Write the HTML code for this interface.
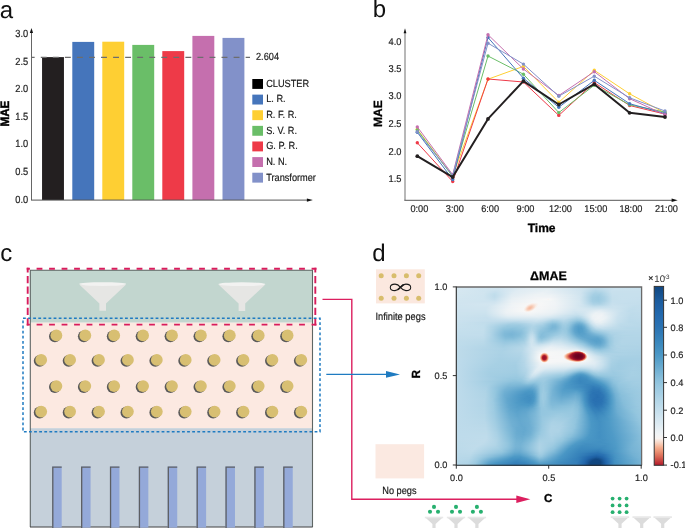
<!DOCTYPE html><html><head><meta charset="utf-8"><style>html,body{margin:0;padding:0;background:#fff;}body{position:relative;width:685px;height:528px;overflow:hidden;}#hm div{position:absolute;left:0;width:100%;height:1px;}svg{display:block;position:absolute;left:0;top:0;will-change:transform;}</style></head><body><div id="hm" style="position:absolute;left:456px;top:287px;width:186px;height:179px;"><div style="top:0px;background:linear-gradient(90deg,#d7e8f1 0.3%,#d1e5ef 22.8%,#e3edf3 41.7%,#e1ecf3 51.9%,#cbe2ee 69.6%,#c1ddec 76.1%,#cce2ee 86.3%,#c9e1ee 99.7%)"></div><div style="top:1px;background:linear-gradient(90deg,#d7e8f1 0.3%,#cfe4ef 22.3%,#e2edf3 39.0%,#e3edf3 50.8%,#cce3ee 68.5%,#bddbea 75.5%,#cbe2ee 85.8%,#c9e1ed 99.7%)"></div><div style="top:2px;background:linear-gradient(90deg,#d7e8f1 0.3%,#cfe4ef 17.5%,#cee3ef 22.8%,#e1edf3 35.8%,#e5eff4 49.7%,#cde3ef 68.0%,#b9d9e9 75.0%,#c0dceb 79.3%,#cbe2ee 85.2%,#c9e1ed 99.7%)"></div><div style="top:3px;background:linear-gradient(90deg,#d6e7f1 0.3%,#cfe4ef 16.4%,#cbe2ee 21.8%,#e0ecf3 33.6%,#e7f0f4 48.7%,#cee3ef 67.5%,#b4d6e8 75.0%,#bad9e9 78.8%,#c9e1ee 84.1%,#c8e1ed 99.7%)"></div><div style="top:4px;background:linear-gradient(90deg,#d6e7f1 0.3%,#cfe4ef 15.9%,#c8e0ed 21.2%,#e0ecf3 32.5%,#e9f0f4 48.7%,#d0e4ef 66.9%,#b0d4e6 75.0%,#b6d7e8 78.8%,#c8e0ed 83.6%,#c8e0ed 99.7%)"></div><div style="top:5px;background:linear-gradient(90deg,#d5e7f0 0.3%,#d0e4ef 15.3%,#c5dfed 21.2%,#dfecf3 30.9%,#ebf1f5 46.5%,#e2edf3 54.6%,#d0e4ef 66.9%,#b7d8e9 71.8%,#abd2e5 75.0%,#afd4e6 78.2%,#c7e0ed 83.6%,#c8e0ed 91.1%,#c8e0ed 99.7%)"></div><div style="top:6px;background:linear-gradient(90deg,#d5e7f0 0.3%,#d0e4ef 14.8%,#c2deec 20.7%,#e0ecf3 30.9%,#edf2f5 46.5%,#e5eef4 54.0%,#d0e4ef 66.9%,#b8d8e9 71.2%,#a8d0e4 74.5%,#a9d1e5 77.7%,#c7e0ed 84.1%,#c7e0ed 99.7%)"></div><div style="top:7px;background:linear-gradient(90deg,#d4e6f0 0.3%,#d0e4ef 14.8%,#c0ddeb 20.7%,#cde3ef 24.5%,#e1ecf3 30.4%,#eef3f5 44.4%,#eaf1f5 51.9%,#d9e9f1 62.6%,#cee3ef 67.5%,#a6cfe4 73.9%,#a4cee3 77.2%,#c6e0ed 84.1%,#c7e0ed 91.7%,#c7e0ed 99.7%)"></div><div style="top:8px;background:linear-gradient(90deg,#d4e6f0 0.3%,#cfe4ef 14.8%,#c0dceb 20.7%,#cbe2ee 23.9%,#e1edf3 29.8%,#eef3f5 42.2%,#eef3f5 50.8%,#dae9f1 63.2%,#cee3ef 67.5%,#a3cee3 73.9%,#a1cde2 77.2%,#b5d7e8 80.9%,#c6dfed 84.1%,#c7e0ed 90.6%,#c7e0ed 99.7%)"></div><div style="top:9px;background:linear-gradient(90deg,#d3e6f0 0.3%,#cfe4ef 14.8%,#c0dceb 20.7%,#cce2ee 23.9%,#e3edf3 29.8%,#eff3f6 41.7%,#eff3f6 50.8%,#d3e6f0 66.4%,#bfdceb 69.6%,#a3cee3 73.4%,#9ecbe1 76.6%,#abd2e5 79.8%,#c5dfed 84.1%,#c7e0ed 90.1%,#c6e0ed 99.7%)"></div><div style="top:10px;background:linear-gradient(90deg,#d3e6f0 0.3%,#cfe4ef 14.8%,#c1ddeb 20.7%,#d0e4ef 24.5%,#e6eff4 30.4%,#f2f4f6 43.3%,#f1f4f6 50.8%,#dceaf2 62.6%,#d1e5ef 66.9%,#bad9e9 70.2%,#a2cde2 73.4%,#9ccae1 76.6%,#aad1e5 79.8%,#c5dfec 84.1%,#c7e0ed 90.1%,#c6dfed 99.7%)"></div><div style="top:11px;background:linear-gradient(90deg,#d2e5f0 0.3%,#cfe4ef 14.8%,#c3deec 20.7%,#d5e7f0 25.0%,#e9f0f4 30.9%,#f3f5f6 44.9%,#f5f6f7 50.3%,#deebf2 61.0%,#d3e6f0 66.4%,#bfdceb 69.6%,#a1cde2 73.4%,#9ccae1 76.6%,#a9d1e5 79.8%,#c4dfec 84.1%,#c7e0ed 89.5%,#c6dfed 99.7%)"></div><div style="top:12px;background:linear-gradient(90deg,#d2e5f0 0.3%,#cfe4ef 15.3%,#c6dfed 20.7%,#e8f0f4 29.8%,#f3f5f6 41.7%,#f6f7f7 48.7%,#f8f4f1 49.7%,#f6f7f7 50.3%,#dfecf3 61.0%,#d4e6f0 66.4%,#bfdceb 69.6%,#a1cde2 73.4%,#9ccae1 76.6%,#a9d1e5 79.8%,#c4dfec 84.1%,#c7e0ed 89.5%,#c5dfed 99.7%)"></div><div style="top:13px;background:linear-gradient(90deg,#d1e5ef 0.3%,#cee4ef 15.9%,#c9e1ee 20.7%,#eaf1f5 29.8%,#f5f6f7 42.2%,#f4f6f6 50.8%,#d4e6f0 66.4%,#c0dceb 69.6%,#a2cde3 73.4%,#9dcbe1 76.6%,#aad1e5 79.8%,#c5dfec 84.1%,#c6dfed 90.1%,#c5dfed 99.7%)"></div><div style="top:14px;background:linear-gradient(90deg,#d1e5ef 0.3%,#cee3ef 16.9%,#cee3ef 21.2%,#ebf1f5 29.8%,#f6f7f7 43.3%,#f1f4f6 52.4%,#d5e7f0 66.4%,#c1ddeb 69.6%,#a4cee3 73.4%,#9fcce2 76.6%,#acd2e5 79.8%,#c5dfed 84.1%,#c6dfed 90.1%,#c4dfec 99.7%)"></div><div style="top:15px;background:linear-gradient(90deg,#d0e4ef 0.3%,#d0e4ef 20.7%,#edf2f5 30.4%,#f7f7f7 43.8%,#f1f4f6 53.0%,#d3e6f0 66.9%,#bedbeb 70.2%,#a5cfe4 73.9%,#a4cee3 77.2%,#b6d7e8 80.9%,#c6dfed 84.1%,#c5dfed 90.6%,#c4deec 99.7%)"></div><div style="top:16px;background:linear-gradient(90deg,#d0e4ef 0.3%,#d2e5f0 20.7%,#eef3f5 29.8%,#f7f6f5 39.5%,#f9efea 41.1%,#f8f1ed 42.7%,#f7f7f7 44.4%,#f0f4f6 53.5%,#d3e6f0 66.9%,#bddbea 70.7%,#aad1e5 73.9%,#a9d0e4 77.2%,#c7e0ed 84.1%,#c4deec 91.7%,#c4deec 99.7%)"></div><div style="top:17px;background:linear-gradient(90deg,#d0e4ef 0.3%,#d3e6f0 19.6%,#eff3f6 30.4%,#f7f6f6 38.4%,#f9e3d8 40.6%,#f9e4d9 41.7%,#f7f7f7 44.4%,#f0f4f6 53.5%,#d2e5f0 67.5%,#b0d4e7 73.9%,#afd4e6 77.2%,#c8e0ed 84.1%,#c3deec 98.1%,#c3deec 99.7%)"></div><div style="top:18px;background:linear-gradient(90deg,#cfe4ef 0.3%,#d2e5f0 18.0%,#f0f4f6 30.4%,#f6f7f7 37.4%,#f8f4f2 37.9%,#f8d5c4 40.1%,#f7d2c0 40.6%,#f8d3c2 41.1%,#f9e1d4 42.2%,#f9f0eb 43.3%,#f7f7f7 44.4%,#f0f3f6 53.5%,#d0e4ef 68.0%,#b7d8e8 74.5%,#bbdaea 78.8%,#cae1ee 84.1%,#c2ddec 97.0%,#c3deec 99.7%)"></div><div style="top:19px;background:linear-gradient(90deg,#cfe4ef 0.3%,#d1e5ef 16.9%,#f0f4f6 29.8%,#f6f7f7 36.8%,#f8f4f2 37.4%,#f9ede6 37.9%,#f8d4c3 39.0%,#f7cbb6 39.5%,#f6c6af 40.1%,#f6c6af 40.6%,#f7cbb6 41.1%,#f8dfd2 42.2%,#f9ebe2 42.7%,#f7f6f5 43.8%,#eff3f6 53.5%,#d9e9f1 64.2%,#c0dceb 74.5%,#cbe2ee 85.2%,#c1ddeb 96.0%,#c2deec 99.7%)"></div><div style="top:20px;background:linear-gradient(90deg,#cfe4ef 0.3%,#d0e4ef 16.4%,#eff3f6 29.3%,#f7f6f5 36.8%,#f9eee8 37.4%,#f7c7b1 39.0%,#f6bfa5 39.5%,#f6bca1 40.1%,#f6c1a9 40.6%,#f8d6c6 41.7%,#f9efe9 42.7%,#f7f5f3 43.3%,#f6f6f7 44.4%,#eff3f5 53.5%,#d9e9f1 63.7%,#c8e1ed 73.9%,#cbe2ee 85.8%,#c0ddeb 95.4%,#c2ddec 99.7%)"></div><div style="top:21px;background:linear-gradient(90deg,#cee4ef 0.3%,#d0e4ef 16.4%,#eff3f6 28.8%,#f7f7f7 36.3%,#f8f2ef 36.8%,#f9e8df 37.4%,#f7ccb8 38.4%,#f6c2aa 39.0%,#f6bca2 39.5%,#f6bfa6 40.1%,#f8d3c2 41.1%,#f9eee7 42.2%,#f7f5f3 42.7%,#f6f6f7 43.8%,#eff3f5 53.0%,#d8e8f1 63.7%,#cfe4ef 73.4%,#d0e4ef 82.0%,#c0dceb 94.9%,#c2ddec 99.7%)"></div><div style="top:22px;background:linear-gradient(90deg,#cee3ef 0.3%,#cfe4ef 15.9%,#eff3f5 28.2%,#f7f7f7 36.3%,#f8f1ec 36.8%,#f7cebb 38.4%,#f7c8b3 39.0%,#f7c8b2 39.5%,#f7ceba 40.1%,#f9efea 41.7%,#f7f6f6 42.2%,#edf2f5 53.5%,#d6e7f1 63.7%,#d4e6f0 72.3%,#d9e9f1 78.2%,#bfdceb 94.4%,#c1ddec 99.7%)"></div><div style="top:23px;background:linear-gradient(90deg,#cee3ef 0.3%,#cee3ef 15.9%,#eef3f5 27.7%,#f7f7f7 36.3%,#f9ebe3 37.4%,#f9e1d5 37.9%,#f8dacc 38.4%,#f8d9c9 39.0%,#f8dcce 39.5%,#f8f3f1 41.1%,#f6f7f7 41.7%,#ebf2f5 53.5%,#d5e7f0 63.7%,#d6e7f0 70.7%,#e1ecf3 77.2%,#bfdceb 93.3%,#c1ddeb 99.7%)"></div><div style="top:24px;background:linear-gradient(90deg,#cee3ef 0.3%,#cde3ef 15.9%,#edf2f5 27.2%,#f7f7f7 36.8%,#f9efe9 37.9%,#f9eee8 39.0%,#f6f7f7 40.6%,#ebf1f5 53.0%,#d2e5f0 63.7%,#d4e6f0 69.1%,#e7eff4 76.6%,#d8e8f1 82.5%,#bfdceb 92.7%,#c1ddeb 99.7%)"></div><div style="top:25px;background:linear-gradient(90deg,#cde3ee 0.3%,#cce3ee 15.9%,#ecf2f5 27.2%,#f5f6f7 39.5%,#eaf1f5 52.4%,#cfe4ef 64.2%,#d4e6f0 69.1%,#eaf1f5 75.5%,#e6eff4 79.3%,#c6dfed 89.0%,#bedbeb 94.9%,#c0dceb 99.7%)"></div><div style="top:26px;background:linear-gradient(90deg,#cde3ee 0.3%,#cbe2ee 15.9%,#ebf1f5 27.2%,#f2f5f6 39.5%,#e9f0f4 51.3%,#cbe2ee 64.8%,#d1e5ef 68.5%,#edf2f5 75.0%,#ebf1f5 78.8%,#c7e0ed 88.4%,#bedbea 94.4%,#c0dceb 99.7%)"></div><div style="top:27px;background:linear-gradient(90deg,#cde3ee 0.3%,#cae1ee 15.9%,#e9f0f4 27.7%,#eff3f5 40.1%,#e7eff4 50.3%,#c7e0ed 64.8%,#cfe4ef 68.5%,#ecf2f5 73.9%,#eef3f5 78.2%,#c7e0ed 88.4%,#bddbea 94.4%,#bfdceb 99.7%)"></div><div style="top:28px;background:linear-gradient(90deg,#cce2ee 0.3%,#c8e1ed 15.9%,#e6eff4 27.7%,#ebf1f5 41.1%,#e3eef3 49.7%,#c5dfec 62.6%,#c1ddeb 65.9%,#d3e6f0 69.6%,#eef3f5 73.9%,#f0f3f6 78.2%,#e1edf3 82.0%,#c8e0ed 87.9%,#bddbea 93.8%,#bfdceb 99.7%)"></div><div style="top:29px;background:linear-gradient(90deg,#cce2ee 0.3%,#c8e0ed 16.4%,#e1edf3 27.7%,#e6eff4 43.3%,#dbeaf2 50.3%,#c7e0ed 60.5%,#b9d9e9 64.8%,#c0dceb 67.5%,#ecf2f5 73.4%,#f1f4f6 77.2%,#e7f0f4 80.9%,#cbe2ee 86.8%,#bddbea 93.3%,#bedbeb 99.7%)"></div><div style="top:30px;background:linear-gradient(90deg,#cbe2ee 0.3%,#c6dfed 16.4%,#dbeaf2 27.7%,#e0ecf3 44.4%,#cce2ee 54.6%,#c5dfed 59.4%,#b1d5e7 64.8%,#b5d7e8 66.9%,#ebf1f5 73.4%,#f1f4f6 76.6%,#eaf1f5 80.4%,#cae1ee 86.8%,#bcdaea 93.3%,#bedbea 99.7%)"></div><div style="top:31px;background:linear-gradient(90deg,#cbe2ee 0.3%,#c5dfed 16.9%,#d5e7f0 28.2%,#d9e9f1 44.9%,#c8e1ed 50.8%,#c3deec 54.6%,#c2ddec 58.9%,#a8d0e4 64.8%,#abd2e5 66.9%,#bedceb 69.1%,#eaf1f5 73.4%,#f1f4f6 76.1%,#ecf2f5 79.8%,#c9e1ee 86.8%,#bcdaea 93.3%,#bddbea 99.7%)"></div><div style="top:32px;background:linear-gradient(90deg,#cbe2ee 0.3%,#c5dfed 18.0%,#cde3ef 28.8%,#d3e6f0 44.4%,#c8e0ed 48.7%,#b7d8e9 52.4%,#bddbea 58.3%,#a8d0e4 62.6%,#9ecbe1 65.3%,#a5cee3 67.5%,#bcdbea 69.6%,#e2edf3 72.8%,#eff3f5 75.0%,#eef3f5 78.8%,#c8e1ed 86.8%,#bbdaea 93.3%,#bcdbea 99.7%)"></div><div style="top:33px;background:linear-gradient(90deg,#cae1ee 0.3%,#c4deec 19.1%,#c8e0ed 36.3%,#cde3ef 43.3%,#c4deec 47.6%,#acd2e5 51.9%,#aed3e6 54.6%,#b7d8e9 57.8%,#afd4e6 60.5%,#95c7df 64.8%,#97c7df 66.9%,#abd2e5 69.1%,#d2e5f0 71.8%,#eaf1f5 74.5%,#eef3f5 77.7%,#e0ecf3 81.5%,#c7e0ed 86.8%,#badaea 93.3%,#bcdaea 99.7%)"></div><div style="top:34px;background:linear-gradient(90deg,#cae1ee 0.3%,#bcdaea 33.6%,#c8e0ed 42.7%,#c0dceb 46.5%,#a0cce2 51.9%,#a1cde2 54.0%,#b2d5e7 57.8%,#acd2e5 59.9%,#87beda 65.3%,#8ac0db 66.9%,#a1cce2 69.1%,#cbe2ee 71.8%,#e6eff4 74.5%,#ecf2f5 77.2%,#e0ecf3 80.9%,#c6dfed 86.8%,#bad9e9 93.3%,#bbdaea 99.7%)"></div><div style="top:35px;background:linear-gradient(90deg,#c9e1ee 0.3%,#c0dceb 16.9%,#b1d5e7 32.0%,#bfdceb 39.5%,#c0dceb 43.8%,#b1d5e7 47.6%,#96c7df 51.9%,#98c8e0 54.0%,#acd2e5 57.8%,#a7d0e4 59.9%,#7db8d7 64.8%,#7ab6d6 66.4%,#86beda 68.0%,#badaea 71.2%,#d8e8f1 73.4%,#e7eff4 75.5%,#e8f0f4 78.2%,#c3deec 87.4%,#b9d9e9 93.8%,#badaea 99.7%)"></div><div style="top:36px;background:linear-gradient(90deg,#c9e1ed 0.3%,#c1ddeb 15.9%,#a8d0e4 30.4%,#aed3e6 36.3%,#bcdaea 41.7%,#b2d5e7 46.0%,#8bc1dc 51.9%,#8cc1dc 53.5%,#a7d0e4 57.8%,#a2cde3 59.9%,#8fc3dd 62.1%,#72b1d3 64.8%,#6eaed2 66.4%,#79b5d6 68.0%,#cbe2ee 72.8%,#deebf2 75.0%,#e4eef3 77.7%,#bedceb 88.4%,#b9d9e9 96.5%,#bad9e9 99.7%)"></div><div style="top:37px;background:linear-gradient(90deg,#c8e0ed 0.3%,#c1ddec 15.3%,#a1cde2 28.8%,#a3cee3 34.7%,#b7d8e9 41.7%,#a9d1e5 46.5%,#83bbd9 51.9%,#84bcd9 53.5%,#a1cde2 57.3%,#a3cee3 58.9%,#95c6df 61.0%,#6daed1 64.2%,#64a8ce 65.9%,#69abd0 67.5%,#7eb8d7 69.1%,#b1d5e7 71.8%,#cae1ee 73.4%,#dbeaf2 75.5%,#deebf2 78.2%,#bddbea 88.4%,#b9d9e9 97.6%,#b9d9e9 99.7%)"></div><div style="top:38px;background:linear-gradient(90deg,#c8e0ed 0.3%,#c2deec 14.8%,#9ccae1 27.7%,#9ccae1 34.1%,#acd2e6 39.0%,#b3d6e7 41.7%,#a0cce2 47.0%,#7db8d7 51.9%,#7fb9d7 53.5%,#9ecbe1 57.3%,#a0cce2 58.9%,#90c4dd 61.0%,#66a9cf 64.2%,#5ca3cc 65.9%,#60a6cd 67.5%,#74b2d4 69.1%,#a8d0e4 71.8%,#c8e1ed 73.9%,#d6e7f1 76.1%,#d6e7f1 79.3%,#bcdaea 88.4%,#b8d9e9 99.7%)"></div><div style="top:39px;background:linear-gradient(90deg,#c7e0ed 0.3%,#c2deec 14.8%,#a9d1e5 21.8%,#97c8df 27.7%,#98c8e0 34.1%,#a6cfe4 38.4%,#b1d5e7 41.1%,#9bcae1 47.0%,#7ab6d6 51.9%,#7cb7d6 53.5%,#9ccae1 57.3%,#9dcbe1 58.9%,#93c5de 60.5%,#60a5cd 64.2%,#579fca 65.9%,#5aa1cb 67.5%,#6cadd1 69.1%,#9fcce2 71.8%,#c0dceb 73.9%,#cfe4ef 76.1%,#d0e4ef 79.3%,#bad9e9 89.0%,#b8d8e9 99.7%)"></div><div style="top:40px;background:linear-gradient(90deg,#c7e0ed 0.3%,#c2deec 14.8%,#abd2e5 20.7%,#96c7df 26.1%,#91c5de 32.0%,#9bcae1 36.8%,#afd4e6 40.6%,#abd2e5 42.7%,#8dc2dc 48.7%,#79b5d6 51.9%,#7cb7d6 53.5%,#9bc9e0 57.3%,#9bcae1 58.9%,#90c4dd 60.5%,#62a7ce 63.7%,#539dc8 65.9%,#569fc9 67.5%,#65a9cf 69.1%,#a0cce2 72.3%,#c1ddec 75.0%,#cbe2ee 77.7%,#c1ddeb 83.6%,#b7d8e9 91.7%,#b7d8e9 99.7%)"></div><div style="top:41px;background:linear-gradient(90deg,#c6dfed 0.3%,#c2deec 14.8%,#afd4e6 19.6%,#93c6de 25.5%,#8cc1dc 30.4%,#96c7df 36.3%,#b0d4e6 40.6%,#a9d1e5 42.7%,#7bb7d6 51.3%,#7eb8d7 53.5%,#9ac9e0 57.3%,#9ac9e0 58.9%,#8ec2dc 60.5%,#60a5cd 63.7%,#519cc8 65.9%,#539dc8 67.5%,#61a6cd 69.1%,#85bdda 71.2%,#a7cfe4 73.4%,#bbdaea 75.5%,#c4deec 78.8%,#b6d8e8 91.7%,#b6d8e8 99.7%)"></div><div style="top:42px;background:linear-gradient(90deg,#c5dfed 0.3%,#c3deec 14.8%,#add3e6 19.6%,#8fc3dd 25.5%,#88bfdb 29.8%,#90c4dd 35.2%,#a2cde3 38.4%,#b1d5e7 40.6%,#acd2e5 42.2%,#96c7df 45.4%,#7db8d7 51.3%,#81bad8 53.5%,#99c8e0 56.7%,#9ac9e0 58.9%,#8cc1dc 60.5%,#5fa5cd 63.7%,#509cc8 65.9%,#559ec9 68.0%,#6cadd1 70.2%,#98c8e0 72.8%,#b1d5e7 75.5%,#bbdaea 79.3%,#b6d7e8 99.7%)"></div><div style="top:43px;background:linear-gradient(90deg,#c5dfed 0.3%,#c3deec 14.8%,#b0d4e6 19.1%,#89bfdb 26.1%,#84bcd9 30.4%,#8dc2dc 35.2%,#a2cde3 38.4%,#b3d6e7 40.6%,#add3e6 42.2%,#93c5de 45.4%,#81bad8 50.8%,#86bdda 53.5%,#9ccae1 57.3%,#97c8df 59.4%,#85bdd9 61.0%,#5fa5cd 63.7%,#519cc8 65.9%,#549ec9 68.0%,#68abd0 70.2%,#96c7df 73.4%,#abd2e5 76.6%,#b6d7e8 82.5%,#b5d7e8 99.7%)"></div><div style="top:44px;background:linear-gradient(90deg,#c4dfec 0.3%,#c2deec 14.8%,#afd4e6 19.1%,#85bdda 26.1%,#80b9d8 30.4%,#8bc0dc 35.2%,#9dcbe1 37.9%,#b3d6e7 40.1%,#b5d7e8 41.1%,#a8d0e4 42.7%,#8fc3dd 45.4%,#84bcd9 49.7%,#88bfdb 53.0%,#9dcbe1 57.3%,#98c8e0 59.4%,#86bdda 61.0%,#61a6cd 63.7%,#529dc8 65.9%,#549ec9 68.0%,#65a9cf 70.2%,#92c5de 73.9%,#a8d0e4 78.8%,#b4d6e8 84.7%,#b5d7e8 99.7%)"></div><div style="top:45px;background:linear-gradient(90deg,#c4deec 0.3%,#c2deec 14.8%,#aed3e6 19.1%,#83bbd9 26.1%,#7db7d7 30.4%,#89bfdb 35.2%,#9dcbe1 37.9%,#b6d7e8 40.1%,#b9d9e9 41.1%,#a9d1e5 42.7%,#91c4de 44.9%,#87beda 47.0%,#8ac0db 51.9%,#a0cce2 57.3%,#99c9e0 59.4%,#88bfdb 61.0%,#5ea4cc 64.2%,#539dc8 66.4%,#57a0ca 68.5%,#73b1d3 71.8%,#8fc3dd 75.0%,#afd4e6 83.1%,#b4d6e8 92.2%,#b4d6e8 99.7%)"></div><div style="top:46px;background:linear-gradient(90deg,#c3deec 0.3%,#c2ddec 14.8%,#b2d5e7 18.5%,#81bad8 26.1%,#7ab6d6 29.8%,#86bdda 34.7%,#99c8e0 37.4%,#b9d9e9 40.1%,#bcdaea 41.1%,#aad1e5 42.7%,#8ec3dd 44.9%,#86beda 46.5%,#8ec2dd 51.3%,#a2cde3 57.3%,#9bcae1 59.4%,#8bc1dc 61.0%,#62a7ce 64.2%,#569fc9 66.4%,#5aa1cb 69.1%,#86bdda 75.5%,#add3e6 83.6%,#b4d6e8 90.6%,#b4d6e8 99.7%)"></div><div style="top:47px;background:linear-gradient(90deg,#c3deec 0.3%,#c2deec 14.2%,#b4d6e8 18.0%,#80bad8 26.1%,#79b5d6 29.8%,#83bcd9 34.1%,#95c6df 36.8%,#bddbea 40.1%,#c0dceb 41.1%,#b5d7e8 42.2%,#93c6de 44.4%,#86bdda 46.0%,#8bc1dc 49.2%,#a5cfe4 56.7%,#a1cde2 58.9%,#8fc3dd 61.0%,#67aacf 64.2%,#59a1ca 66.4%,#5aa2cb 69.1%,#89bfdb 78.2%,#aad1e5 83.6%,#b3d6e7 89.0%,#b3d6e8 99.7%)"></div><div style="top:48px;background:linear-gradient(90deg,#c2ddec 0.3%,#c2ddec 14.2%,#b4d6e8 18.0%,#81bad8 26.1%,#7ab6d6 29.8%,#85bdd9 34.1%,#9bcae1 37.4%,#c0ddeb 40.1%,#c3deec 41.1%,#b8d8e9 42.2%,#93c6de 44.4%,#85bdda 46.0%,#8cc1dc 48.7%,#a9d1e5 56.2%,#a4cee3 58.9%,#8dc2dc 61.6%,#67aacf 64.8%,#5aa2cb 67.5%,#60a5cd 70.7%,#7ab6d6 77.7%,#9ecbe2 82.0%,#afd4e6 85.8%,#b3d6e7 97.0%,#b3d6e7 99.7%)"></div><div style="top:49px;background:linear-gradient(90deg,#c2ddec 0.3%,#c0dceb 14.8%,#add3e6 19.1%,#80bad8 26.6%,#7db8d7 30.4%,#8ac0db 34.7%,#9dcbe1 37.4%,#c4deec 40.1%,#c7e0ed 41.1%,#bad9ea 42.2%,#94c6df 44.4%,#88beda 45.4%,#87beda 47.0%,#a9d1e5 54.0%,#add3e6 57.3%,#a1cce2 59.9%,#8cc1dc 62.1%,#69abd0 65.3%,#5da3cc 68.0%,#67aacf 75.5%,#75b3d4 78.2%,#9bc9e0 82.0%,#add3e6 85.2%,#b3d6e7 91.1%,#b3d6e7 99.7%)"></div><div style="top:50px;background:linear-gradient(90deg,#c1ddeb 0.3%,#bfdceb 14.8%,#add3e6 19.1%,#83bcd9 26.6%,#80bad8 30.4%,#90c4dd 35.2%,#a0cce2 37.4%,#c6e0ed 40.1%,#c9e1ee 41.1%,#bddbea 42.2%,#95c7df 44.4%,#8ac0db 45.4%,#8ac0db 47.0%,#acd2e5 53.0%,#b2d5e7 56.7%,#a9d0e4 59.4%,#8dc2dc 62.6%,#6cadd1 65.9%,#5fa5cd 69.1%,#62a6cd 76.1%,#72b1d3 78.8%,#97c8e0 82.0%,#acd2e5 85.2%,#b2d5e7 90.1%,#b2d5e7 99.7%)"></div><div style="top:51px;background:linear-gradient(90deg,#c1ddeb 0.3%,#bedbea 14.8%,#aad1e5 19.6%,#87beda 26.6%,#86bdda 30.9%,#99c9e0 36.3%,#a9d1e5 37.9%,#c9e1ed 40.1%,#cce2ee 41.1%,#c0dceb 42.2%,#98c8e0 44.4%,#8cc1dc 46.0%,#9ac9e0 48.7%,#b2d5e7 53.0%,#b7d8e9 56.7%,#aad1e5 59.9%,#89bfdb 63.7%,#6cadd1 66.9%,#5fa5cd 70.7%,#5ca3cc 76.1%,#67aacf 78.2%,#9ac9e0 82.5%,#add3e6 85.8%,#b2d5e7 91.7%,#b2d5e7 99.7%)"></div><div style="top:52px;background:linear-gradient(90deg,#c0dceb 0.3%,#bcdbea 14.8%,#a8d0e4 20.2%,#8bc1dc 26.6%,#8bc1dc 30.9%,#9dcae1 36.3%,#acd2e5 37.9%,#cbe2ee 40.1%,#cee3ef 41.1%,#c2ddec 42.2%,#9ccae1 44.4%,#93c6de 46.0%,#a0cce2 48.7%,#b8d8e9 52.4%,#bddbea 56.2%,#b2d5e7 59.4%,#8dc2dc 64.2%,#6daed1 68.0%,#5ba2cb 72.8%,#5aa2cb 76.6%,#68aad0 78.8%,#98c8e0 82.5%,#abd2e5 85.2%,#b2d5e7 89.5%,#b2d5e7 99.7%)"></div><div style="top:53px;background:linear-gradient(90deg,#c0dceb 0.3%,#bbdaea 14.8%,#a5cfe4 20.7%,#90c4dd 26.6%,#92c5de 31.5%,#a0cce2 36.3%,#afd4e6 37.9%,#cce2ee 40.1%,#cfe4ef 41.1%,#c4dfec 42.2%,#a2cde3 44.4%,#9bc9e0 46.0%,#a9d0e4 48.7%,#bfdceb 52.4%,#c3deec 56.2%,#b5d7e8 59.9%,#87beda 65.9%,#67aacf 70.2%,#58a0ca 74.5%,#5aa2cb 77.2%,#6badd1 79.3%,#97c7df 82.5%,#aad1e5 85.2%,#b2d5e7 89.5%,#b1d5e7 99.7%)"></div><div style="top:54px;background:linear-gradient(90deg,#bfdceb 0.3%,#bad9e9 14.8%,#a2cde3 21.8%,#94c6df 26.6%,#99c8e0 32.5%,#a7d0e4 36.8%,#cde3ee 40.1%,#d0e4ef 41.1%,#bfdceb 42.7%,#a9d1e5 44.4%,#a4cee3 46.0%,#b6d7e8 49.2%,#c7e0ed 52.4%,#c8e1ed 56.2%,#bbdaea 59.9%,#88bfdb 66.9%,#63a7ce 71.8%,#58a0ca 75.5%,#5da3cc 77.7%,#71b0d3 79.8%,#96c7df 82.5%,#aad1e5 85.2%,#b2d5e7 89.0%,#b1d5e7 99.7%)"></div><div style="top:55px;background:linear-gradient(90deg,#bfdceb 0.3%,#b9d9e9 14.8%,#99c8e0 26.1%,#9dcbe1 32.5%,#abd2e5 36.8%,#cee3ef 40.1%,#d1e5ef 41.1%,#c3deec 42.7%,#b2d5e7 44.4%,#afd4e6 46.0%,#cde3ef 51.9%,#cde3ee 56.7%,#bbdaea 61.0%,#89bfdb 68.0%,#65a9cf 72.3%,#5aa2cb 75.5%,#5ea4cc 77.7%,#71b0d3 79.8%,#96c7df 82.5%,#aad1e5 85.2%,#b2d5e7 89.0%,#b0d4e7 99.7%)"></div><div style="top:56px;background:linear-gradient(90deg,#bfdceb 0.3%,#b8d8e9 14.8%,#9ccae1 26.1%,#a3cde3 33.1%,#aed3e6 36.8%,#d1e5ef 40.6%,#cbe2ee 42.2%,#bbdaea 44.4%,#bcdaea 46.5%,#d3e6f0 51.3%,#d3e6f0 56.2%,#c2deec 61.0%,#94c6df 68.0%,#68aad0 72.8%,#5ea4cc 75.5%,#61a6cd 77.7%,#73b2d4 79.8%,#97c8df 82.5%,#abd2e5 85.2%,#b1d5e7 89.0%,#b0d4e7 99.7%)"></div><div style="top:57px;background:linear-gradient(90deg,#bfdceb 0.3%,#b7d8e8 14.8%,#9fcce2 26.1%,#a9d0e4 34.1%,#b5d7e8 37.4%,#d2e5f0 40.6%,#cee3ef 42.2%,#c4deec 44.4%,#cce3ee 47.6%,#dae9f2 51.9%,#d4e6f0 57.8%,#bedceb 63.2%,#94c6df 69.1%,#6fafd2 72.8%,#63a7ce 75.5%,#65a9cf 77.7%,#77b4d5 79.8%,#98c8e0 82.5%,#abd2e5 85.2%,#b1d5e7 89.5%,#b0d4e6 99.7%)"></div><div style="top:58px;background:linear-gradient(90deg,#bedceb 0.3%,#b5d7e8 15.3%,#a3cde3 25.5%,#acd2e5 34.1%,#b8d8e9 37.4%,#d2e5f0 40.6%,#cde3ee 44.9%,#e0ecf3 51.3%,#dae9f2 57.3%,#c9e1ee 62.6%,#abd2e5 67.5%,#83bbd9 71.8%,#6daed1 74.5%,#69abd0 77.2%,#76b3d4 79.3%,#9ecbe2 83.1%,#afd4e6 86.3%,#afd4e6 99.7%)"></div><div style="top:59px;background:linear-gradient(90deg,#bedbeb 0.3%,#b4d6e8 15.3%,#a5cfe3 25.5%,#b1d5e7 35.2%,#bedbeb 37.9%,#d3e6f0 40.6%,#d5e7f0 44.9%,#e5eef4 50.8%,#dfecf3 57.3%,#cce2ee 63.7%,#b0d4e7 68.0%,#77b4d5 74.5%,#71b0d3 77.2%,#7cb7d6 79.3%,#a0cce2 83.1%,#afd3e6 86.3%,#aed3e6 99.7%)"></div><div style="top:60px;background:linear-gradient(90deg,#bedbeb 0.3%,#b3d6e7 15.3%,#a7d0e4 25.5%,#b4d7e8 35.8%,#c4deec 38.4%,#d5e7f0 41.1%,#ddebf2 45.4%,#eaf1f5 50.8%,#e0ecf3 58.9%,#cfe4ef 64.8%,#b6d7e8 68.5%,#7eb9d7 75.0%,#7ab6d6 77.2%,#83bcd9 79.3%,#a5cfe3 83.6%,#b0d4e6 87.4%,#aed3e6 99.7%)"></div><div style="top:61px;background:linear-gradient(90deg,#bedbeb 0.3%,#b2d5e7 15.9%,#a9d1e5 26.1%,#b6d7e8 35.8%,#c9e1ee 39.0%,#d7e8f1 41.7%,#ecf2f5 49.2%,#e8f0f4 56.7%,#d8e8f1 64.8%,#c1ddeb 68.5%,#8ac0db 75.0%,#84bcd9 77.2%,#8fc3dd 79.8%,#aad1e5 84.7%,#afd4e6 89.5%,#add3e6 99.7%)"></div><div style="top:62px;background:linear-gradient(90deg,#bedbea 0.3%,#b0d4e7 16.4%,#aad1e5 26.1%,#b6d7e8 35.8%,#cae1ee 39.0%,#dae9f2 42.2%,#eff3f5 48.1%,#ecf2f5 56.2%,#e0ecf3 65.3%,#c7e0ed 69.1%,#99c8e0 74.5%,#8fc3dd 77.7%,#a2cde3 82.5%,#aed3e6 86.8%,#add2e6 99.7%)"></div><div style="top:63px;background:linear-gradient(90deg,#bedbea 0.3%,#aad1e5 25.0%,#b7d8e8 35.8%,#cee3ef 39.5%,#eff3f5 46.5%,#f1f4f6 53.5%,#eef3f5 62.6%,#eef3f5 65.9%,#d8e8f1 68.5%,#a6cfe4 73.9%,#98c8e0 77.2%,#9fcbe2 80.9%,#add3e6 85.8%,#acd2e5 99.7%)"></div><div style="top:64px;background:linear-gradient(90deg,#bedbea 0.3%,#abd2e5 24.5%,#b5d7e8 35.2%,#c6dfed 38.4%,#e4eef3 43.3%,#f4f6f6 47.6%,#f2f5f6 60.5%,#f7f7f7 62.1%,#f9e9e0 62.6%,#f6b99e 63.7%,#f4a582 64.2%,#ef9a7a 64.8%,#ee9777 65.3%,#f19e7d 65.9%,#f5b293 66.4%,#f7f7f7 67.5%,#cde3ee 70.7%,#a9d1e5 75.0%,#9fcce2 78.2%,#add3e6 87.4%,#abd2e5 99.7%)"></div><div style="top:65px;background:linear-gradient(90deg,#bedbea 0.3%,#abd2e5 24.5%,#b4d6e8 35.2%,#c6dfed 38.4%,#ecf2f5 44.4%,#f6f6f7 46.5%,#f8f2ee 47.6%,#f7f7f7 48.7%,#f3f5f6 58.3%,#f6f7f7 59.9%,#f9f0eb 60.5%,#f8dbcd 61.0%,#f09c7b 62.1%,#e27c63 62.6%,#d1564a 63.2%,#c03338 63.7%,#b1182b 64.2%,#a41329 65.3%,#a51429 65.9%,#ab162a 66.4%,#b92632 66.9%,#d1564a 67.5%,#eb9173 68.0%,#f8dbcc 68.5%,#f1f4f6 69.1%,#d7e8f1 70.7%,#b6d7e8 74.5%,#a7d0e4 78.2%,#abd2e5 91.1%,#aad1e5 99.7%)"></div><div style="top:66px;background:linear-gradient(90deg,#bedbea 0.3%,#abd2e5 23.9%,#b2d5e7 34.7%,#c1ddeb 37.9%,#edf2f5 44.4%,#f7f6f5 46.0%,#f6c2ab 47.0%,#f6baa0 47.6%,#f7c6b0 48.1%,#f8dfd2 48.7%,#f8f2ee 49.2%,#f6f7f7 49.7%,#f4f6f6 57.8%,#f7f6f6 58.9%,#f9eae2 59.4%,#f7d1be 59.9%,#f5b294 60.5%,#ec9273 61.0%,#dc6e5a 61.6%,#c84440 62.1%,#b31a2c 62.6%,#930e26 63.7%,#810823 64.8%,#7c0722 65.9%,#850a24 66.9%,#920e26 67.5%,#a9152a 68.0%,#ce5047 68.5%,#f4a582 69.1%,#f6f7f7 69.6%,#dae9f1 71.2%,#bbdaea 75.0%,#add3e6 78.8%,#aad1e5 99.7%)"></div><div style="top:67px;background:linear-gradient(90deg,#bedbea 0.3%,#aad1e5 23.9%,#b1d5e7 34.7%,#c1ddeb 37.9%,#f7f7f7 45.4%,#f7d0bd 46.0%,#ef9a7a 46.5%,#e17860 47.0%,#dc6e59 47.6%,#e58267 48.1%,#f4a886 48.7%,#f8d7c8 49.2%,#f8f3ef 49.7%,#f6f7f7 50.3%,#f4f6f7 57.3%,#f6f7f7 57.8%,#f8f2ee 58.3%,#f8ded1 58.9%,#f2a07e 59.9%,#e48066 60.5%,#be3036 61.6%,#ab162a 62.1%,#8a0b25 63.2%,#770521 64.2%,#6e0220 65.9%,#720421 66.9%,#790622 67.5%,#860a24 68.0%,#9f1228 68.5%,#c94540 69.1%,#f4a683 69.6%,#f5f6f7 70.2%,#dbeaf2 71.8%,#bddbea 76.1%,#aed3e6 80.9%,#a9d1e5 99.7%)"></div><div style="top:68px;background:linear-gradient(90deg,#bedbea 0.3%,#aad1e5 23.9%,#b0d4e7 34.7%,#c0dceb 37.9%,#f4f6f6 44.9%,#f9e4da 45.4%,#f09d7c 46.0%,#d2594c 46.5%,#bb2933 47.0%,#b51e2e 47.6%,#c2373a 48.1%,#dd725c 48.7%,#f5b192 49.2%,#f9e7dd 49.7%,#f7f7f7 50.3%,#f4f6f6 56.7%,#f7f5f3 57.8%,#f9e4da 58.3%,#f3a381 59.4%,#e68469 59.9%,#c2383a 61.0%,#af172b 61.6%,#810823 63.2%,#700320 64.2%,#69011f 65.9%,#700321 67.5%,#790622 68.0%,#8c0c25 68.5%,#ad162a 69.1%,#de725c 69.6%,#f8d6c5 70.2%,#f1f4f6 70.7%,#dceaf2 72.3%,#bad9e9 78.2%,#abd2e5 84.1%,#a8d0e4 99.7%)"></div><div style="top:69px;background:linear-gradient(90deg,#bedbea 0.3%,#aad1e5 23.9%,#afd4e6 34.7%,#c0dceb 37.9%,#f6f6f7 44.9%,#f7cab6 45.4%,#e07860 46.0%,#b92631 46.5%,#a31329 47.0%,#9f1228 47.6%,#a9152a 48.1%,#c7423f 48.7%,#ec9374 49.2%,#f8d7c7 49.7%,#f7f5f3 50.3%,#f5f6f7 51.9%,#f6f6f7 57.3%,#f8f2ef 57.8%,#f8ded0 58.3%,#f09b7a 59.4%,#e27c62 59.9%,#be3036 61.0%,#ac162a 61.6%,#7f0823 63.2%,#6f0320 64.2%,#69001f 65.9%,#6f0320 67.5%,#780522 68.0%,#880b24 68.5%,#a71529 69.1%,#d66252 69.6%,#f6c1a9 70.2%,#f4f5f6 70.7%,#e0ecf3 72.3%,#b4d6e8 80.9%,#a8d0e4 86.3%,#a8d0e4 99.7%)"></div><div style="top:70px;background:linear-gradient(90deg,#bedbea 0.3%,#a9d1e5 23.9%,#add3e6 34.1%,#bbdaea 37.4%,#f6f7f7 44.9%,#f6bea5 45.4%,#d76553 46.0%,#af172a 46.5%,#9b1127 47.0%,#970f27 47.6%,#a11328 48.1%,#bc2d35 48.7%,#e6856a 49.2%,#f7cfbc 49.7%,#f8f4f1 50.3%,#f6f6f7 50.8%,#f6f6f7 57.3%,#f8f5f3 57.8%,#f9e4d9 58.3%,#f7c6b0 58.9%,#f4a582 59.4%,#d76453 60.5%,#b31b2c 61.6%,#850a24 63.2%,#730421 64.2%,#6c0120 65.9%,#740421 67.5%,#7e0723 68.0%,#920e26 68.5%,#b41b2c 69.1%,#e17860 69.6%,#f7cdb9 70.2%,#f4f5f6 70.7%,#e3eef3 72.3%,#add3e6 83.1%,#a7d0e4 88.4%,#a7d0e4 99.7%)"></div><div style="top:71px;background:linear-gradient(90deg,#bedbeb 0.3%,#a8d0e4 23.9%,#acd2e6 34.1%,#badaea 37.4%,#f6f6f7 44.9%,#f6c5af 45.4%,#dc6e59 46.0%,#b31a2c 46.5%,#9f1228 47.0%,#9b1127 47.6%,#a41429 48.1%,#c13639 48.7%,#e98c6f 49.2%,#f8d4c3 49.7%,#f7f5f4 50.3%,#f4f6f6 52.4%,#f6f7f7 57.8%,#f8f1ed 58.3%,#f8ded1 58.9%,#f3a481 59.9%,#d96755 61.0%,#b41d2d 62.1%,#940f26 63.2%,#7f0823 64.2%,#750521 65.3%,#760521 66.4%,#830923 67.5%,#930e26 68.0%,#ad162a 68.5%,#d35b4d 69.1%,#f4a582 69.6%,#f9ede7 70.2%,#f2f5f6 70.7%,#e0ecf3 73.4%,#acd2e5 83.6%,#a6cfe4 89.0%,#a6cfe4 99.7%)"></div><div style="top:72px;background:linear-gradient(90deg,#bedbeb 0.3%,#a8d0e4 23.9%,#abd2e5 33.6%,#bad9e9 37.4%,#f4f6f6 44.9%,#f8ddd0 45.4%,#ea8e71 46.0%,#c7423f 46.5%,#af172b 47.0%,#aa162a 47.6%,#b6202f 48.1%,#d45d4f 48.7%,#f4a582 49.2%,#f9e3d8 49.7%,#f7f7f7 50.3%,#f5f6f7 57.8%,#f6f7f7 58.3%,#f8f3f1 58.9%,#f9e8de 59.4%,#f6b99d 60.5%,#f19e7d 61.0%,#e68468 61.6%,#c53f3d 62.6%,#b41b2d 63.2%,#9a1027 64.2%,#8e0c25 65.3%,#900d26 66.4%,#991027 66.9%,#a81529 67.5%,#bf3338 68.0%,#dc6f5a 68.5%,#f4a885 69.1%,#f9e4d9 69.6%,#f4f6f7 70.2%,#e0ecf3 73.9%,#c0dceb 79.8%,#a9d1e5 84.1%,#a5cfe3 89.0%,#a6cfe4 99.7%)"></div><div style="top:73px;background:linear-gradient(90deg,#bedbeb 0.3%,#a7d0e4 23.9%,#a9d1e5 33.1%,#b6d7e8 36.8%,#f7f6f5 45.4%,#f6c0a7 46.0%,#e68469 46.5%,#d2584c 47.0%,#cd4d45 47.6%,#d86554 48.1%,#ed9576 48.7%,#f7cdba 49.2%,#f8f2ef 49.7%,#f6f6f7 50.3%,#f5f6f7 58.9%,#f8f5f3 59.9%,#f9ede5 60.5%,#f8ddcf 61.0%,#f5b193 62.1%,#ef9979 62.6%,#cf5348 64.2%,#c7423f 64.8%,#c33a3b 65.3%,#c43c3c 65.9%,#cb4942 66.4%,#d66151 66.9%,#f3a381 68.0%,#f7ceba 68.5%,#f8f2ee 69.1%,#f4f6f6 69.6%,#cde3ee 78.2%,#abd2e5 83.6%,#a4cee3 87.9%,#a6cfe4 99.2%,#a5cfe4 99.7%)"></div><div style="top:74px;background:linear-gradient(90deg,#bedbeb 0.3%,#a7d0e4 23.4%,#a8d0e4 32.5%,#b6d7e8 36.8%,#f4f5f6 45.4%,#f8f1ed 46.0%,#f7cab5 46.5%,#f4a987 47.0%,#f2a17f 47.6%,#f5b192 48.1%,#f8f1ec 49.2%,#f6f6f7 49.7%,#f4f6f6 59.9%,#f7f7f7 61.6%,#f9ece4 62.6%,#f6c5ae 64.2%,#f6bca2 64.8%,#f6ba9f 65.3%,#f6bea4 65.9%,#f7c8b2 66.4%,#f8d9c9 66.9%,#f9ede6 67.5%,#f6f7f7 68.0%,#d7e8f1 76.6%,#aad1e5 83.6%,#a3cee3 87.9%,#a6cfe4 98.1%,#a5cfe3 99.7%)"></div><div style="top:75px;background:linear-gradient(90deg,#bedbeb 0.3%,#a7d0e4 22.8%,#a6cfe4 32.0%,#b2d5e7 36.3%,#f4f5f6 46.0%,#f6f7f7 46.5%,#f9f0eb 47.0%,#f9ece5 47.6%,#f7f7f7 48.7%,#f2f4f6 54.6%,#f2f5f6 66.4%,#dfebf3 75.0%,#c2deec 79.8%,#a7d0e4 84.1%,#a2cde3 88.4%,#a6cfe4 97.6%,#a5cfe3 99.7%)"></div><div style="top:76px;background:linear-gradient(90deg,#bedbeb 0.3%,#a7d0e4 21.8%,#a6cfe4 32.0%,#b5d7e8 36.8%,#eef3f5 45.4%,#f3f5f6 48.1%,#e9f0f4 68.0%,#e0ecf3 74.5%,#c6dfed 79.3%,#a8d0e4 83.6%,#a1cde2 87.4%,#a6cfe4 97.0%,#a5cfe3 99.7%)"></div><div style="top:77px;background:linear-gradient(90deg,#bedbeb 0.3%,#a7d0e4 20.7%,#a5cfe3 32.0%,#b4d6e8 36.8%,#edf2f5 45.4%,#eef3f5 50.3%,#e8f0f4 63.7%,#ddebf2 74.5%,#c9e1ed 78.8%,#a7d0e4 83.6%,#a1cde2 87.4%,#a6cfe4 96.5%,#a5cee3 99.7%)"></div><div style="top:78px;background:linear-gradient(90deg,#bedbeb 0.3%,#a7d0e4 20.2%,#a4cee3 32.0%,#b4d6e8 36.8%,#dbeaf2 42.7%,#ebf1f5 45.4%,#e6eff4 61.0%,#dbeaf2 68.5%,#dae9f2 74.5%,#c7e0ed 78.8%,#a6cfe4 83.6%,#a0cce2 87.4%,#a6cfe4 96.0%,#a5cee3 99.7%)"></div><div style="top:79px;background:linear-gradient(90deg,#bedbeb 0.3%,#a7d0e4 19.1%,#a4cee3 32.0%,#b3d6e7 36.8%,#d2e5f0 41.7%,#e9f0f4 44.9%,#e1edf3 60.5%,#d3e6f0 68.0%,#d6e7f1 74.5%,#c8e0ed 78.2%,#a5cfe3 83.6%,#a0cce2 87.4%,#a7cfe4 96.0%,#a5cee3 99.7%)"></div><div style="top:80px;background:linear-gradient(90deg,#bedbeb 0.3%,#a7d0e4 19.1%,#a3cee3 32.0%,#b2d5e7 36.8%,#cde3ee 41.1%,#e6eff4 44.4%,#e3eef3 48.1%,#dbeaf2 59.9%,#c7e0ed 67.5%,#d2e5f0 74.5%,#c4dfec 78.2%,#a4cee3 83.6%,#a0cce2 87.4%,#a7d0e4 95.4%,#a5cee3 99.7%)"></div><div style="top:81px;background:linear-gradient(90deg,#bedbeb 0.3%,#a6cfe4 18.5%,#a3cee3 32.0%,#b4d6e8 37.4%,#cde3ee 41.1%,#e4eef4 43.8%,#e4eef3 46.0%,#dceaf2 50.3%,#d5e7f0 59.4%,#b9d9e9 66.9%,#c0dceb 70.2%,#cce2ee 73.9%,#c6dfed 77.2%,#a2cde3 83.6%,#a0cce2 87.9%,#a7d0e4 95.4%,#a5cfe3 99.7%)"></div><div style="top:82px;background:linear-gradient(90deg,#bedbeb 0.3%,#a6cfe4 18.5%,#a3cee3 32.5%,#b5d7e8 37.9%,#cee3ef 41.1%,#e2edf3 43.3%,#e3eef3 44.9%,#d7e8f1 48.7%,#cee3ef 58.9%,#aad1e5 66.4%,#add3e6 69.1%,#c4deec 73.9%,#c2ddec 76.6%,#a1cde2 83.6%,#a0cce2 87.9%,#a7d0e4 95.4%,#a5cfe3 99.7%)"></div><div style="top:83px;background:linear-gradient(90deg,#bedbeb 0.3%,#a6cfe4 18.5%,#a2cde3 32.5%,#b4d6e8 37.9%,#c9e1ee 40.6%,#dfecf3 42.7%,#e1edf3 44.4%,#d1e5ef 48.1%,#c6dfed 58.3%,#afd4e6 62.6%,#9ac9e0 66.4%,#9dcbe1 69.1%,#bad9e9 73.9%,#bbdaea 76.6%,#9fcbe2 84.1%,#a4cee3 90.1%,#a6cfe4 97.6%,#a5cfe3 99.7%)"></div><div style="top:84px;background:linear-gradient(90deg,#bedbeb 0.3%,#a5cfe4 18.0%,#a2cde2 32.5%,#b3d6e8 37.9%,#cbe2ee 40.6%,#dfecf3 42.7%,#dceaf2 44.4%,#cbe2ee 47.6%,#bedbea 57.8%,#aad1e5 61.6%,#86bdda 66.4%,#86bdda 68.0%,#b0d4e7 73.9%,#b4d6e8 76.6%,#9ecbe1 84.1%,#a7d0e4 95.4%,#a5cfe3 99.7%)"></div><div style="top:85px;background:linear-gradient(90deg,#bedbeb 0.3%,#a5cfe3 18.0%,#a1cde2 32.5%,#afd4e6 37.4%,#c6dfed 40.1%,#dceaf2 42.2%,#dae9f2 43.8%,#c5dfed 47.0%,#b3d6e8 57.8%,#9dcae1 61.6%,#74b2d4 65.9%,#70afd2 67.5%,#7db7d7 69.6%,#9ecbe1 72.8%,#abd2e5 75.5%,#a6cfe4 79.8%,#9ccae1 84.7%,#a7d0e4 94.9%,#a5cfe3 99.7%)"></div><div style="top:86px;background:linear-gradient(90deg,#bedbeb 0.3%,#a4cee3 18.5%,#a0cce2 32.5%,#aed3e6 37.4%,#c1ddeb 39.5%,#d7e8f1 41.7%,#d7e8f1 43.3%,#c0dceb 46.5%,#a9d1e5 57.8%,#95c6df 61.0%,#64a8ce 65.3%,#5da3cc 66.9%,#61a6cd 68.5%,#77b4d5 70.7%,#97c8df 73.4%,#a3cee3 76.1%,#9ccae1 85.2%,#a7d0e4 94.4%,#a5cfe3 99.7%)"></div><div style="top:87px;background:linear-gradient(90deg,#bedbeb 0.3%,#a4cee3 18.5%,#9ecbe2 32.5%,#aad1e5 36.8%,#bbdaea 39.0%,#d2e6f0 41.1%,#d3e6f0 42.7%,#b9d9e9 46.5%,#9fcce2 57.8%,#8cc1dc 60.5%,#59a1cb 64.8%,#4d99c6 66.9%,#519cc8 68.5%,#67aacf 70.7%,#90c4dd 73.9%,#9ccae1 76.6%,#9bcae1 85.8%,#a7d0e4 94.4%,#a5cfe3 99.7%)"></div><div style="top:88px;background:linear-gradient(90deg,#bedbeb 0.3%,#a3cee3 19.1%,#9dcbe1 32.5%,#a8d0e4 36.8%,#bbdaea 39.0%,#d0e4ef 41.1%,#cce2ee 42.7%,#b5d7e8 46.0%,#95c7df 57.8%,#7eb8d7 60.5%,#4c99c6 64.8%,#4693c3 67.5%,#4d99c6 69.6%,#87beda 74.5%,#93c6de 76.6%,#9ecbe1 87.4%,#a7d0e4 94.9%,#a5cfe3 99.7%)"></div><div style="top:89px;background:linear-gradient(90deg,#bedbeb 0.3%,#a2cde3 19.6%,#9bcae1 32.5%,#a4cee3 36.3%,#b5d7e8 38.4%,#c9e1ee 40.6%,#c7e0ed 42.2%,#b1d5e7 45.4%,#91c5de 56.7%,#77b4d5 59.9%,#4b98c6 63.7%,#418ec1 66.9%,#4996c5 70.2%,#7eb8d7 75.0%,#8ec2dc 78.2%,#a6cfe4 93.8%,#a5cfe3 99.7%)"></div><div style="top:90px;background:linear-gradient(90deg,#bedbeb 0.3%,#a0cce2 21.8%,#99c8e0 32.5%,#a1cde2 36.3%,#c2ddec 40.1%,#c1ddeb 41.7%,#add3e6 44.9%,#8fc3dd 55.1%,#77b4d5 58.9%,#4a97c5 63.2%,#3e8bbf 66.9%,#4592c2 70.2%,#509bc7 71.8%,#76b3d4 75.5%,#8bc1dc 80.4%,#a5cfe3 92.2%,#a5cfe3 99.7%)"></div><div style="top:91px;background:linear-gradient(90deg,#bedbeb 0.3%,#98c8e0 28.2%,#99c9e0 34.7%,#a7cfe4 37.4%,#bbdaea 40.1%,#b7d8e9 41.7%,#a8d0e4 44.4%,#9ecbe1 49.2%,#80bad8 56.2%,#63a7ce 59.9%,#4996c5 62.6%,#3c89be 66.4%,#418ec1 70.2%,#529cc8 72.8%,#71b0d3 76.6%,#95c6df 84.7%,#a5cee3 92.7%,#a5cee3 99.7%)"></div><div style="top:92px;background:linear-gradient(90deg,#bedbeb 0.3%,#94c6de 30.9%,#97c8e0 35.2%,#add3e6 38.4%,#b3d6e8 40.1%,#a3cee3 44.4%,#9fcce2 48.1%,#75b3d4 56.7%,#4996c5 62.1%,#3b88bd 66.4%,#3f8cbf 70.2%,#4d9ac7 73.4%,#77b4d5 79.3%,#96c7df 85.8%,#a4cee3 93.3%,#a4cee3 99.7%)"></div><div style="top:93px;background:linear-gradient(90deg,#bedbeb 0.3%,#90c4dd 31.5%,#96c7df 35.8%,#aad1e5 39.0%,#a6cfe4 41.1%,#9ecbe1 43.8%,#9ecbe2 47.6%,#72b1d3 56.2%,#4794c3 62.1%,#3a87bd 66.4%,#3e8bbf 70.7%,#509bc7 75.0%,#91c4de 84.7%,#a2cde3 91.7%,#a4cee3 99.7%)"></div><div style="top:94px;background:linear-gradient(90deg,#bedbeb 0.3%,#9dcae1 21.2%,#8cc1dc 32.0%,#90c4dd 35.2%,#a2cde2 39.0%,#98c8e0 43.3%,#9ecbe1 47.0%,#8cc1dc 50.8%,#559fc9 59.4%,#4592c3 62.1%,#3986bc 66.9%,#408dc0 72.3%,#4d99c6 76.1%,#8ec2dd 84.7%,#9ecbe2 90.1%,#a3cee3 99.7%)"></div><div style="top:95px;background:linear-gradient(90deg,#bedbeb 0.3%,#a1cde2 19.1%,#88bfdb 30.4%,#89bfdb 34.7%,#99c8e0 38.4%,#91c5de 42.7%,#9ccae1 47.0%,#8cc1dc 50.3%,#4896c4 61.0%,#3a86bd 66.9%,#3f8cbf 73.4%,#4f9bc7 77.7%,#8bc1dc 84.7%,#9ac9e0 88.4%,#a3cee3 97.0%,#a3cee3 99.7%)"></div><div style="top:96px;background:linear-gradient(90deg,#bedbeb 0.3%,#a4cee3 18.0%,#85bdda 29.3%,#84bcd9 34.7%,#90c4dd 38.4%,#88bfdb 42.2%,#9bcae1 46.5%,#93c5de 49.2%,#4e9ac7 59.4%,#3b88bd 66.4%,#3c89be 73.9%,#4b98c6 78.2%,#88bfdb 84.7%,#97c8e0 87.9%,#a2cde2 96.0%,#a2cde3 99.7%)"></div><div style="top:97px;background:linear-gradient(90deg,#bedbeb 0.3%,#a5cfe4 17.5%,#82bbd8 28.8%,#7eb9d7 34.7%,#84bcd9 38.4%,#7eb8d7 41.7%,#8ac0db 43.8%,#99c9e0 46.0%,#98c8e0 48.1%,#539dc8 58.3%,#4592c3 62.1%,#3885bc 70.7%,#3b88be 75.5%,#4d99c6 79.3%,#81bad8 84.1%,#94c6df 87.4%,#a0cce2 94.9%,#a2cde3 99.7%)"></div><div style="top:98px;background:linear-gradient(90deg,#bedbeb 0.3%,#a7d0e4 16.9%,#7fb9d7 28.2%,#79b5d5 34.7%,#79b5d5 38.4%,#75b2d4 41.1%,#80bad8 43.3%,#95c7df 45.4%,#9bc9e0 47.0%,#90c4dd 49.2%,#6cadd1 54.0%,#4c98c6 59.4%,#3682ba 72.8%,#3a87bd 76.6%,#4b98c6 79.8%,#7db8d7 84.1%,#93c5de 87.4%,#a0cce2 95.4%,#a1cde2 99.7%)"></div><div style="top:99px;background:linear-gradient(90deg,#bedbeb 0.3%,#a8d0e4 16.9%,#7cb7d6 27.7%,#73b1d3 34.7%,#6cadd1 41.1%,#7bb6d6 43.3%,#95c6df 45.4%,#9bc9e0 47.0%,#90c4dd 49.2%,#6eaed2 53.5%,#4d9ac7 58.9%,#337eb8 73.9%,#3b87bd 77.7%,#4b98c6 80.4%,#7ab6d6 84.1%,#91c4de 87.4%,#9ecbe1 94.9%,#a1cde2 99.7%)"></div><div style="top:100px;background:linear-gradient(90deg,#bedbeb 0.3%,#aad1e5 16.4%,#8ac0db 23.4%,#76b3d5 28.2%,#63a7ce 40.6%,#70afd2 42.7%,#94c6df 45.4%,#9bcae1 47.0%,#90c3dd 49.2%,#6cadd1 53.5%,#4e9ac7 58.9%,#3f8bbf 68.0%,#317bb7 73.9%,#3581ba 77.2%,#4b98c6 80.9%,#76b3d4 84.1%,#8fc3dd 87.4%,#9ccae1 93.3%,#a0cce2 99.7%)"></div><div style="top:101px;background:linear-gradient(90deg,#bedbeb 0.3%,#abd1e5 16.4%,#8cc1dc 22.8%,#76b3d4 27.2%,#5ba2cb 40.1%,#65a8cf 42.2%,#83bbd9 44.4%,#94c6de 45.4%,#9bcae1 47.0%,#8fc3dd 49.2%,#6fafd2 53.0%,#509bc7 58.3%,#4491c2 66.9%,#2f79b6 73.9%,#337db8 77.2%,#4491c2 80.4%,#559fc9 82.0%,#78b5d5 84.7%,#90c3dd 87.9%,#9dcbe1 96.0%,#a0cce2 99.7%)"></div><div style="top:102px;background:linear-gradient(90deg,#bedbeb 0.3%,#abd2e5 16.4%,#8ec2dd 22.3%,#74b2d4 26.6%,#549ec9 39.5%,#5ba2cb 41.7%,#6eaed2 43.3%,#93c6de 45.4%,#9ccae1 47.0%,#8fc3dd 49.2%,#72b1d3 52.4%,#529dc8 57.8%,#4e9ac7 62.6%,#4592c2 67.5%,#2e78b5 73.4%,#2f78b5 76.6%,#3d89be 79.8%,#509bc8 82.0%,#75b3d4 84.7%,#8ec2dc 87.9%,#9bc9e1 94.4%,#9fcce2 99.7%)"></div><div style="top:103px;background:linear-gradient(90deg,#bedbeb 0.3%,#add3e6 15.9%,#94c6df 21.2%,#74b2d4 26.1%,#4e9ac7 39.0%,#529cc8 41.1%,#62a6cd 42.7%,#93c6de 45.4%,#9dcae1 47.0%,#90c3dd 49.2%,#72b1d3 52.4%,#549dc9 57.8%,#539dc8 62.1%,#509bc8 65.3%,#3b88bd 69.6%,#2c75b3 73.9%,#2e77b5 77.2%,#3e8bbf 80.4%,#4b98c6 82.0%,#72b1d3 84.7%,#89bfdb 87.4%,#95c7df 91.1%,#9fcce2 99.7%)"></div><div style="top:104px;background:linear-gradient(90deg,#bedbeb 0.3%,#aed3e6 15.9%,#93c6de 21.2%,#71b0d3 26.1%,#509bc7 36.3%,#4997c5 39.5%,#4d99c6 41.1%,#5ea4cc 42.7%,#93c6de 45.4%,#9dcbe1 47.0%,#90c4dd 49.2%,#76b3d4 51.9%,#57a0ca 57.3%,#549ec9 60.5%,#57a0ca 64.8%,#4390c2 68.5%,#2d76b4 72.8%,#2b73b3 76.6%,#3784bb 79.8%,#509bc7 82.5%,#75b3d4 85.2%,#8ac0db 87.9%,#96c7df 92.2%,#9ecbe2 99.7%)"></div><div style="top:105px;background:linear-gradient(90deg,#bedbeb 0.3%,#aed3e6 15.9%,#93c6de 21.2%,#6fafd2 26.1%,#4895c4 37.9%,#4a97c5 41.1%,#5ca3cb 42.7%,#94c6de 45.4%,#9ecbe1 47.0%,#95c7df 48.7%,#76b3d4 51.9%,#59a1ca 57.3%,#58a0ca 60.5%,#5ca3cc 64.8%,#519cc8 66.9%,#337eb8 71.2%,#2a72b2 73.9%,#2c74b3 77.7%,#3d8abe 80.9%,#4c99c6 82.5%,#73b1d3 85.2%,#88bfdb 87.9%,#96c7df 92.7%,#9ecbe1 99.7%)"></div><div style="top:106px;background:linear-gradient(90deg,#bedbeb 0.3%,#afd4e6 15.9%,#93c5de 21.2%,#6daed2 26.1%,#4794c4 37.4%,#4896c4 41.1%,#519cc8 42.2%,#70afd2 43.8%,#94c6df 45.4%,#9dcbe1 46.5%,#9ac9e0 48.1%,#76b3d4 51.9%,#5ba2cb 57.3%,#5ba2cb 60.5%,#62a7ce 64.2%,#59a1cb 66.4%,#3986bc 70.2%,#2a73b2 73.4%,#2b73b3 77.7%,#3b88bd 80.9%,#529cc8 83.1%,#76b3d5 85.8%,#8cc1dc 89.0%,#9bc9e0 96.5%,#9ecbe1 99.7%)"></div><div style="top:107px;background:linear-gradient(90deg,#bedbeb 0.3%,#afd4e6 15.9%,#96c7df 20.7%,#6cadd1 26.1%,#4693c3 36.8%,#4693c3 40.6%,#4f9bc7 42.2%,#6fafd2 43.8%,#94c6df 45.4%,#9ecbe1 46.5%,#9ac9e0 48.1%,#76b3d4 51.9%,#5da4cc 57.3%,#5fa5cd 60.5%,#66a9cf 64.2%,#5da4cc 66.4%,#428fc1 69.1%,#2d76b4 72.3%,#2870b1 75.5%,#2d76b4 78.8%,#3e8bbf 81.5%,#4f9bc7 83.1%,#74b2d4 85.8%,#8ac0db 89.0%,#99c9e0 96.0%,#9dcbe1 99.7%)"></div><div style="top:108px;background:linear-gradient(90deg,#bedbeb 0.3%,#afd4e6 15.9%,#96c7df 20.7%,#6bacd1 26.1%,#4996c5 35.2%,#4390c1 39.5%,#4996c5 41.7%,#57a0ca 42.7%,#94c6df 45.4%,#9ecbe1 46.5%,#9ac9e0 48.1%,#76b3d5 51.9%,#60a5cd 57.3%,#63a7ce 60.5%,#6bacd1 64.2%,#61a6cd 66.4%,#4390c1 69.1%,#2d76b4 72.3%,#286fb1 76.1%,#2e78b5 79.3%,#428fc1 82.0%,#4c99c6 83.1%,#72b1d3 85.8%,#86beda 88.4%,#96c7df 94.4%,#9dcbe1 99.7%)"></div><div style="top:109px;background:linear-gradient(90deg,#bedbeb 0.3%,#b0d4e6 15.9%,#96c7df 20.7%,#6bacd1 26.1%,#539dc9 32.0%,#428fc1 38.4%,#4693c3 41.1%,#4d99c7 42.2%,#6eafd2 43.8%,#94c6df 45.4%,#9ecbe1 46.5%,#9ac9e0 48.1%,#7ab6d6 51.3%,#64a8ce 56.7%,#65a9cf 59.9%,#6fafd2 64.2%,#64a8ce 66.4%,#4491c2 69.1%,#2d76b4 72.3%,#286fb0 76.1%,#2e77b5 79.3%,#408dc0 82.0%,#4b98c6 83.1%,#71b0d3 85.8%,#85bdda 88.4%,#96c7df 94.4%,#9dcbe1 99.7%)"></div><div style="top:110px;background:linear-gradient(90deg,#bedbeb 0.3%,#b0d4e6 15.9%,#96c7df 20.7%,#67aacf 26.6%,#4996c5 34.7%,#418ec1 39.5%,#4895c4 41.7%,#569fca 42.7%,#94c6df 45.4%,#9ecbe1 46.5%,#9ac9e0 48.1%,#7bb6d6 51.3%,#67aacf 56.7%,#69abd0 59.9%,#72b1d3 64.2%,#67aacf 66.4%,#4591c2 69.1%,#2d76b4 72.3%,#276eb0 76.1%,#2d76b4 79.3%,#4592c2 82.5%,#75b3d4 86.3%,#89bfdb 89.5%,#9ac9e0 97.0%,#9dcae1 99.7%)"></div><div style="top:111px;background:linear-gradient(90deg,#bedbeb 0.3%,#b1d5e7 15.3%,#9ecbe1 19.6%,#7fb9d8 23.4%,#61a6cd 27.7%,#4491c2 36.8%,#428fc1 40.1%,#4d9ac7 42.2%,#6fafd2 43.8%,#94c6df 45.4%,#9dcbe1 46.5%,#9ac9e0 48.1%,#7bb6d6 51.3%,#6aacd0 56.7%,#6fafd2 60.5%,#76b3d4 64.2%,#6aacd0 66.4%,#4592c3 69.1%,#307ab6 71.8%,#286fb1 74.5%,#2b73b3 78.8%,#3f8cbf 82.0%,#509cc8 83.6%,#74b2d4 86.3%,#88bfdb 89.5%,#99c8e0 96.5%,#9dcae1 99.7%)"></div><div style="top:112px;background:linear-gradient(90deg,#bedbeb 0.3%,#b2d5e7 15.3%,#9ecbe1 19.6%,#7fb9d8 23.4%,#61a6cd 27.7%,#4592c3 36.3%,#428fc1 40.1%,#4996c5 41.7%,#58a0ca 42.7%,#94c6de 45.4%,#9dcbe1 46.5%,#99c9e0 48.1%,#7cb7d6 51.3%,#6daed2 56.7%,#73b2d4 60.5%,#79b5d6 64.2%,#6dadd1 66.4%,#4693c3 69.1%,#307ab6 71.8%,#2970b1 73.9%,#2971b2 78.2%,#3681ba 80.9%,#509bc7 83.6%,#72b1d3 86.3%,#87beda 89.5%,#99c8e0 96.5%,#9ccae1 99.7%)"></div><div style="top:113px;background:linear-gradient(90deg,#bedbeb 0.3%,#b2d5e7 15.3%,#9ecbe1 19.6%,#80bad8 23.4%,#61a6cd 27.7%,#4895c4 35.2%,#428fc1 39.5%,#4a97c5 41.7%,#59a1cb 42.7%,#93c6de 45.4%,#9dcbe1 47.0%,#8fc3dd 49.2%,#7cb7d7 51.3%,#71b0d3 56.7%,#7bb6d6 61.6%,#7db7d7 64.2%,#6fafd2 66.4%,#4794c4 69.1%,#317bb7 71.8%,#2970b1 73.9%,#2a71b2 78.2%,#3682ba 80.9%,#4f9bc7 83.6%,#71b0d3 86.3%,#86bdda 89.5%,#98c8e0 96.5%,#9ccae1 99.7%)"></div><div style="top:114px;background:linear-gradient(90deg,#bedbeb 0.3%,#b2d5e7 15.3%,#9ecbe2 19.6%,#81bad8 23.4%,#61a6cd 27.7%,#4a97c5 34.7%,#4390c2 39.5%,#4b98c6 41.7%,#66a9cf 43.3%,#93c5de 45.4%,#9ccae1 47.0%,#8fc3dd 49.2%,#7db8d7 51.3%,#75b2d4 56.7%,#81bad8 63.7%,#77b4d5 65.9%,#5aa2cb 68.0%,#4390c2 69.6%,#2f78b5 72.3%,#286fb1 75.0%,#2b73b3 78.8%,#3f8cbf 82.0%,#4f9bc7 83.6%,#71b0d3 86.3%,#85bdda 89.5%,#97c8df 96.0%,#9ccae1 99.7%)"></div><div style="top:115px;background:linear-gradient(90deg,#bedbeb 0.3%,#b2d5e7 15.3%,#9bcae1 20.2%,#65a8cf 27.2%,#509bc7 32.5%,#4491c2 39.0%,#4a97c5 41.1%,#5ea4cc 42.7%,#93c5de 45.4%,#9ccae1 47.0%,#8fc3dd 49.2%,#7fb9d7 51.3%,#78b5d5 56.7%,#84bcd9 63.7%,#79b5d6 65.9%,#5da3cc 68.0%,#4a97c5 69.1%,#337db8 71.8%,#2a72b2 73.9%,#2971b2 77.7%,#337eb8 80.4%,#4f9bc7 83.6%,#70afd2 86.3%,#86beda 90.1%,#99c8e0 97.0%,#9ccae1 99.7%)"></div><div style="top:116px;background:linear-gradient(90deg,#bedbeb 0.3%,#b2d5e7 15.3%,#9ccae1 20.2%,#62a7ce 27.7%,#4f9bc7 33.1%,#4794c4 39.5%,#4d99c6 41.1%,#61a6cd 42.7%,#92c5de 45.4%,#9bc9e0 47.0%,#8fc3dd 49.2%,#80bad8 51.3%,#7cb7d7 56.7%,#86beda 63.7%,#7cb7d6 65.9%,#5fa5cd 68.0%,#4c99c6 69.1%,#347fb9 71.8%,#2a72b2 74.5%,#2b73b3 78.2%,#3b88bd 81.5%,#4f9bc7 83.6%,#6fafd2 86.3%,#85bdda 90.1%,#97c8e0 96.5%,#9ccae1 99.7%)"></div><div style="top:117px;background:linear-gradient(90deg,#bedbeb 0.3%,#b2d5e7 15.3%,#9ccae1 20.2%,#7eb9d7 23.9%,#5ea4cc 28.8%,#4c99c6 35.2%,#4b98c6 40.1%,#5da4cc 42.2%,#92c5de 45.4%,#9ac9e0 47.0%,#8fc3dd 49.2%,#81bbd8 51.3%,#80bad8 57.3%,#8ac0db 63.2%,#82bbd9 65.3%,#6aacd0 67.5%,#4895c4 69.6%,#327db8 72.3%,#2a72b2 75.0%,#2c75b4 78.2%,#3c89be 81.5%,#509bc7 83.6%,#6fafd2 86.3%,#85bcd9 90.1%,#97c8df 96.5%,#9ccae1 99.7%)"></div><div style="top:118px;background:linear-gradient(90deg,#bedbeb 0.3%,#b2d5e7 15.3%,#9dcae1 20.2%,#7fb9d8 23.9%,#5ea4cc 28.8%,#509bc7 34.1%,#4c99c6 39.0%,#579fca 41.1%,#70b0d2 43.3%,#92c5de 45.4%,#99c9e0 47.0%,#8fc3dd 49.2%,#82bbd9 51.9%,#87beda 58.9%,#8cc1dc 63.2%,#80b9d8 65.9%,#64a8ce 68.0%,#4996c5 69.6%,#347fb9 72.3%,#2b73b3 75.0%,#2e77b5 78.2%,#3e8bbf 81.5%,#519cc8 83.6%,#6eaed2 86.3%,#86bdda 90.6%,#98c8e0 97.0%,#9bcae1 99.7%)"></div><div style="top:119px;background:linear-gradient(90deg,#bedbeb 0.3%,#b2d5e7 15.3%,#9dcbe1 20.2%,#62a7ce 28.2%,#539dc8 33.1%,#519cc8 39.0%,#60a6cd 41.7%,#91c5de 45.4%,#98c8e0 47.0%,#85bdd9 51.9%,#8ec3dd 63.2%,#82bbd8 65.9%,#67aacf 68.0%,#4b98c6 69.6%,#337eb8 72.8%,#2c75b3 75.5%,#317bb7 78.8%,#4390c1 82.0%,#529cc8 83.6%,#72b0d3 86.8%,#8bc0dc 92.2%,#9bc9e0 99.2%,#9bcae1 99.7%)"></div><div style="top:120px;background:linear-gradient(90deg,#bedbeb 0.3%,#b3d6e7 15.3%,#9dcbe1 20.2%,#63a7ce 28.2%,#559ec9 32.5%,#559ec9 38.4%,#61a6cd 41.1%,#7db8d7 43.8%,#95c6df 46.0%,#97c8df 47.6%,#87beda 51.9%,#90c4dd 63.2%,#83bcd9 65.9%,#69abd0 68.0%,#4895c4 70.2%,#3580b9 72.8%,#2e77b5 76.1%,#3480b9 79.3%,#4c99c6 83.1%,#6daed1 86.3%,#86bdda 91.1%,#98c8e0 97.6%,#9bcae1 99.7%)"></div><div style="top:121px;background:linear-gradient(90deg,#bedbeb 0.3%,#b3d6e7 15.3%,#9ecbe1 20.2%,#7eb8d7 24.5%,#5fa5cd 29.3%,#559fc9 33.6%,#5ba2cb 39.0%,#6daed1 42.2%,#95c6df 46.0%,#95c7df 48.1%,#8ac0db 51.9%,#93c5de 62.6%,#89bfdb 65.3%,#73b1d3 67.5%,#4a97c5 70.2%,#3480b9 73.4%,#307ab6 76.6%,#3b88bd 80.4%,#4d99c6 83.1%,#6cadd1 86.3%,#87beda 91.7%,#98c8e0 97.6%,#9bc9e0 99.7%)"></div><div style="top:122px;background:linear-gradient(90deg,#bedbeb 0.3%,#b3d6e7 15.3%,#9ecbe2 20.2%,#7fb9d8 24.5%,#61a6cd 29.3%,#57a0ca 33.6%,#5fa5cc 39.0%,#71b0d3 42.2%,#94c6df 46.0%,#96c7df 48.1%,#8dc2dc 51.9%,#94c6df 62.6%,#8ac0db 65.3%,#6daed1 68.0%,#4c99c6 70.2%,#3682ba 73.4%,#327cb7 76.6%,#3d8abe 80.4%,#4e9ac7 83.1%,#6fafd2 86.8%,#90c4dd 94.4%,#9ac9e0 99.7%)"></div><div style="top:123px;background:linear-gradient(90deg,#bedbeb 0.3%,#b3d6e8 15.3%,#9fcce2 20.2%,#84bcd9 23.9%,#64a8ce 28.8%,#59a1ca 33.1%,#60a5cd 38.4%,#73b2d4 42.2%,#94c6df 46.0%,#95c6df 48.7%,#91c4de 52.4%,#95c7df 62.6%,#8bc0db 65.3%,#6fafd2 68.0%,#4996c5 70.7%,#3783bb 73.9%,#347fb9 77.2%,#418ec1 80.9%,#509bc7 83.1%,#6eaed2 86.8%,#92c5de 95.4%,#9ac9e0 99.7%)"></div><div style="top:124px;background:linear-gradient(90deg,#bedbeb 0.3%,#b4d6e8 15.3%,#9ccae1 20.7%,#68abd0 28.2%,#5ba2cb 32.5%,#60a5cd 37.4%,#72b1d3 41.7%,#94c6df 46.0%,#95c7df 48.7%,#95c7df 54.6%,#96c7df 62.6%,#8bc1dc 65.3%,#70b0d2 68.0%,#4b98c6 70.7%,#3783bb 74.5%,#3783bb 77.7%,#4b98c6 82.5%,#6daed2 86.8%,#93c6de 96.0%,#9ac9e0 99.7%)"></div><div style="top:125px;background:linear-gradient(90deg,#bedbeb 0.3%,#b4d6e8 15.3%,#9dcae1 20.7%,#6aacd0 28.2%,#5ca3cc 32.5%,#62a6cd 37.4%,#77b4d5 42.2%,#94c6df 46.0%,#96c7df 49.2%,#98c8e0 62.1%,#8cc1dc 65.3%,#71b0d3 68.0%,#4996c4 71.2%,#3884bb 75.0%,#3b88bd 78.8%,#4c99c6 82.5%,#6dadd1 86.8%,#94c6de 96.5%,#99c9e0 99.7%)"></div><div style="top:126px;background:linear-gradient(90deg,#bedbeb 0.3%,#b4d6e8 15.3%,#9dcbe1 20.7%,#69abd0 28.8%,#5da4cc 33.1%,#65a8cf 37.9%,#7cb7d7 42.7%,#94c6df 46.0%,#9bcae1 56.7%,#96c7df 63.2%,#88bfdb 65.9%,#65a9cf 69.1%,#4a97c5 71.2%,#3a86bd 75.0%,#3d8abe 78.8%,#4d9ac7 82.5%,#6eaed2 87.4%,#94c6df 97.0%,#99c8e0 99.7%)"></div><div style="top:127px;background:linear-gradient(90deg,#bedbeb 0.3%,#b5d7e8 15.3%,#9ecbe1 20.7%,#6aacd0 28.8%,#5fa5cc 33.1%,#66a9cf 37.9%,#7db8d7 42.7%,#94c6df 46.0%,#9dcbe1 55.6%,#98c8e0 62.6%,#8cc1dc 65.3%,#6dadd1 68.5%,#4895c4 71.8%,#3b88bd 75.5%,#408dc0 79.3%,#4e9ac7 82.5%,#70afd2 87.9%,#95c6df 97.6%,#98c8e0 99.7%)"></div><div style="top:128px;background:linear-gradient(90deg,#bedbeb 0.3%,#b5d7e8 15.3%,#9fcbe2 20.7%,#6badd1 28.8%,#60a5cd 33.1%,#67aacf 37.9%,#7eb8d7 42.7%,#94c6df 46.0%,#9fcce2 54.6%,#99c9e0 62.1%,#8cc1dc 65.3%,#67aacf 69.1%,#4a97c5 71.8%,#3d89be 75.5%,#4390c1 79.8%,#4f9ac7 82.5%,#71b0d3 88.4%,#94c6df 97.6%,#98c8e0 99.7%)"></div><div style="top:129px;background:linear-gradient(90deg,#bedbeb 0.3%,#b5d7e8 15.3%,#9fcce2 20.7%,#6daed1 28.8%,#61a6cd 33.1%,#67aacf 37.9%,#7eb8d7 42.7%,#97c7df 46.5%,#a1cde2 55.6%,#98c8e0 62.6%,#8cc1dc 65.3%,#68aad0 69.1%,#4b98c6 71.8%,#3e8bbf 75.5%,#4491c2 79.8%,#539dc8 83.1%,#77b4d5 90.1%,#95c6df 98.1%,#97c8e0 99.7%)"></div><div style="top:130px;background:linear-gradient(90deg,#bedbeb 0.3%,#b6d7e8 15.3%,#a0cce2 20.7%,#6eaed2 28.8%,#62a7ce 33.6%,#6aabd0 38.4%,#82bbd9 43.3%,#97c8df 46.5%,#a3cee3 54.0%,#9ccae1 61.6%,#8cc1dc 65.3%,#63a7ce 69.6%,#4996c5 72.3%,#3f8cbf 76.1%,#4895c4 80.9%,#78b4d5 90.6%,#94c6df 98.1%,#97c7df 99.7%)"></div><div style="top:131px;background:linear-gradient(90deg,#bedbeb 0.3%,#b6d8e8 15.3%,#a1cce2 20.7%,#6daed1 29.3%,#63a7ce 34.1%,#6cadd1 39.0%,#83bbd9 43.3%,#98c8e0 46.5%,#a5cfe3 53.5%,#9fcbe2 60.5%,#90c3dd 64.8%,#69abd0 69.1%,#4a97c5 72.3%,#408dc0 76.1%,#4a97c5 81.5%,#76b4d5 90.6%,#95c6df 98.7%,#96c7df 99.7%)"></div><div style="top:132px;background:linear-gradient(90deg,#bedbeb 0.3%,#b7d8e9 15.3%,#a2cde2 20.7%,#6fafd2 29.3%,#64a8ce 34.1%,#6cadd1 39.0%,#83bbd9 43.3%,#98c8e0 46.5%,#a6cfe4 52.4%,#a2cde3 58.9%,#92c5de 64.2%,#6fafd2 68.5%,#4a97c5 72.3%,#418ec0 76.1%,#4a97c5 81.5%,#83bbd9 93.8%,#95c7df 99.2%,#96c7df 99.7%)"></div><div style="top:133px;background:linear-gradient(90deg,#bedbeb 0.3%,#b7d8e9 15.3%,#a2cde3 20.7%,#70afd2 29.3%,#64a8ce 34.1%,#6badd1 39.0%,#83bbd9 43.3%,#99c8e0 46.5%,#a8d0e4 52.4%,#a3cee3 58.9%,#92c5de 64.2%,#6fafd2 68.5%,#4b98c6 72.3%,#428fc1 76.6%,#4c99c6 82.0%,#8fc3dd 97.0%,#95c7df 99.7%)"></div><div style="top:134px;background:linear-gradient(90deg,#bedbeb 0.3%,#b8d8e9 15.3%,#a3cee3 20.7%,#6fafd2 29.8%,#65a8ce 34.7%,#6daed1 39.5%,#87beda 43.8%,#9bcae1 47.0%,#aad1e5 52.4%,#a5cfe3 58.3%,#92c5de 64.2%,#69abd0 69.1%,#4996c5 72.8%,#428fc1 77.2%,#4f9bc7 82.5%,#93c5de 98.7%,#95c6df 99.7%)"></div><div style="top:135px;background:linear-gradient(90deg,#bedbeb 0.3%,#b8d8e9 15.9%,#a1cde2 21.2%,#70afd2 29.8%,#65a8cf 34.7%,#6bacd1 39.0%,#7fb9d7 42.7%,#99c9e0 46.5%,#abd2e5 51.9%,#a8d0e4 57.3%,#92c5de 64.2%,#64a8ce 69.6%,#4997c5 72.8%,#4390c1 77.2%,#4f9ac7 82.5%,#92c5de 98.7%,#94c6df 99.7%)"></div><div style="top:136px;background:linear-gradient(90deg,#bedbeb 0.3%,#b8d8e9 15.9%,#a2cde3 21.2%,#71b0d3 29.8%,#65a8cf 34.7%,#6bacd1 39.0%,#7fb9d7 42.7%,#9ac9e0 46.5%,#abd2e5 51.3%,#aad1e5 56.7%,#94c6df 63.7%,#6eaed2 68.5%,#4a97c5 72.8%,#4390c2 77.2%,#4e9ac7 82.5%,#92c5de 99.2%,#93c6de 99.7%)"></div><div style="top:137px;background:linear-gradient(90deg,#bedbeb 0.3%,#b9d9e9 15.9%,#a3cee3 21.2%,#6fafd2 30.4%,#65a8cf 35.2%,#6cadd1 39.5%,#83bbd9 43.3%,#9ac9e0 46.5%,#acd2e6 51.3%,#abd2e5 56.2%,#96c7df 63.2%,#77b4d5 67.5%,#4a97c5 72.8%,#4390c2 77.2%,#4e9ac7 82.5%,#92c5de 99.2%,#93c5de 99.7%)"></div><div style="top:138px;background:linear-gradient(90deg,#bedbeb 0.3%,#bad9e9 15.9%,#a4cee3 21.2%,#70afd2 30.4%,#65a8ce 35.2%,#6cadd1 39.5%,#83bcd9 43.3%,#9bc9e0 46.5%,#add3e6 51.3%,#acd2e5 56.2%,#93c6de 63.7%,#68aad0 69.1%,#4a97c5 72.8%,#4390c2 77.2%,#4e9ac7 82.5%,#92c5de 99.7%)"></div><div style="top:139px;background:linear-gradient(90deg,#bedbeb 0.3%,#bad9e9 15.9%,#a5cfe3 21.2%,#6eaed2 30.9%,#64a8ce 35.8%,#6eaed2 40.1%,#88bfdb 43.8%,#a1cce2 47.6%,#afd4e6 51.9%,#aad1e5 57.3%,#93c5de 63.7%,#4a97c5 72.8%,#4390c2 77.2%,#4f9bc7 83.1%,#91c4de 99.7%)"></div><div style="top:140px;background:linear-gradient(90deg,#bedbeb 0.3%,#bbdaea 15.9%,#a6cfe4 21.2%,#7fb9d8 27.7%,#69abd0 32.5%,#65a8cf 36.8%,#70b0d3 40.6%,#9bcae1 46.5%,#aed3e6 51.3%,#acd2e6 56.2%,#92c5de 63.7%,#4a97c5 72.8%,#4390c2 77.2%,#4f9ac7 83.1%,#90c4dd 99.7%)"></div><div style="top:141px;background:linear-gradient(90deg,#bedbeb 0.3%,#bcdaea 15.9%,#a7d0e4 21.2%,#81bad8 27.7%,#69abd0 32.5%,#65a8ce 36.8%,#71b0d3 40.6%,#9ccae1 46.5%,#afd4e6 51.3%,#acd2e5 56.2%,#91c4de 63.7%,#4c99c6 72.3%,#4390c2 76.6%,#4c99c6 82.5%,#8fc3dd 99.7%)"></div><div style="top:142px;background:linear-gradient(90deg,#bedbeb 0.3%,#bcdaea 15.9%,#a8d0e4 21.2%,#82bbd8 27.7%,#69abd0 32.5%,#65a8ce 36.8%,#71b0d3 40.6%,#99c9e0 46.0%,#aed3e6 50.8%,#aed3e6 55.1%,#95c7df 62.6%,#6eaed2 68.0%,#4b98c6 72.3%,#4390c2 77.2%,#4e9ac7 83.1%,#81bad8 96.0%,#8ec3dd 99.7%)"></div><div style="top:143px;background:linear-gradient(90deg,#bedbeb 0.3%,#bcdaea 16.4%,#a4cee3 22.3%,#7fb9d8 28.2%,#68aad0 33.1%,#65a9cf 37.4%,#75b2d4 41.1%,#9ac9e0 46.0%,#aed3e6 50.8%,#aed3e6 55.1%,#94c6df 62.6%,#63a8ce 69.1%,#4996c5 72.8%,#4491c2 77.7%,#4f9bc7 83.6%,#7eb8d7 95.4%,#8dc2dc 99.7%)"></div><div style="top:144px;background:linear-gradient(90deg,#bedbeb 0.3%,#bcdbea 16.4%,#a8d0e4 21.8%,#84bcd9 27.7%,#6aabd0 32.5%,#64a8ce 36.3%,#6fafd2 40.1%,#87beda 43.3%,#9bcae1 46.0%,#aed3e6 50.8%,#add3e6 55.1%,#93c5de 62.6%,#4b98c6 72.3%,#4390c2 77.2%,#4f9ac7 83.6%,#7db8d7 95.4%,#8cc1dc 99.7%)"></div><div style="top:145px;background:linear-gradient(90deg,#bedbeb 0.3%,#bddbea 16.4%,#a9d1e5 21.8%,#85bdda 27.7%,#6aacd0 32.5%,#65a8cf 36.3%,#70b0d2 40.1%,#89bfdb 43.3%,#99c9e0 45.4%,#aed3e6 50.8%,#acd2e5 55.1%,#90c4dd 62.6%,#4a97c5 72.3%,#4390c2 77.2%,#4e9ac7 83.6%,#7cb7d7 95.4%,#8cc1dc 99.7%)"></div><div style="top:146px;background:linear-gradient(90deg,#bedbeb 0.3%,#bedbea 16.4%,#aad1e5 21.8%,#86beda 27.7%,#6aacd0 32.5%,#66a9cf 36.3%,#71b0d3 40.1%,#8bc1dc 43.3%,#9dcbe1 46.0%,#aed3e6 51.3%,#a8d0e4 56.2%,#8ec2dd 62.6%,#4a97c5 72.3%,#4390c2 77.2%,#4f9bc7 84.1%,#8bc0dc 99.7%)"></div><div style="top:147px;background:linear-gradient(90deg,#bedbeb 0.3%,#bedbeb 16.4%,#abd2e5 21.8%,#88beda 27.7%,#6bacd1 32.5%,#66a9cf 36.3%,#73b1d3 40.1%,#8dc2dc 43.3%,#9ecbe2 46.0%,#aed3e6 51.3%,#a7cfe4 56.2%,#8ac0db 62.6%,#4b98c6 71.8%,#4390c2 77.2%,#4f9ac7 84.1%,#8ac0db 99.7%)"></div><div style="top:148px;background:linear-gradient(90deg,#bedbeb 0.3%,#bedceb 16.4%,#a9d1e5 22.3%,#89bfdb 27.7%,#6cadd1 32.5%,#68aad0 36.3%,#75b3d4 40.1%,#8ac0db 42.7%,#9ccae1 44.9%,#add3e6 51.3%,#a5cfe3 56.2%,#8ac0db 62.1%,#4a97c5 71.8%,#4390c2 77.2%,#4e9ac7 84.1%,#89bfdb 99.7%)"></div><div style="top:149px;background:linear-gradient(90deg,#bedbeb 0.3%,#bfdceb 16.4%,#aad1e5 22.3%,#8ac0db 27.7%,#6fafd2 32.0%,#68abd0 35.2%,#72b1d3 39.0%,#87beda 42.2%,#9ecbe1 44.9%,#acd2e6 51.3%,#a3cee3 56.2%,#89c0db 61.6%,#4b98c6 71.2%,#4390c2 77.2%,#4d9ac7 84.1%,#88bfdb 99.7%)"></div><div style="top:150px;background:linear-gradient(90deg,#bedbeb 0.3%,#bfdceb 16.4%,#abd2e5 22.3%,#88bfdb 28.2%,#6eaed2 32.5%,#6aacd0 35.8%,#7ab6d6 40.1%,#a0cce2 44.9%,#abd2e5 51.3%,#a0cce2 56.2%,#88bfdb 61.0%,#4b98c6 70.7%,#4390c2 77.2%,#4f9ac7 84.7%,#87beda 99.2%,#88beda 99.7%)"></div><div style="top:151px;background:linear-gradient(90deg,#bedbeb 0.3%,#bfdceb 16.4%,#acd2e5 22.3%,#89c0db 28.2%,#6fafd2 32.5%,#6cadd1 35.8%,#7db8d7 40.1%,#a3cde3 44.9%,#aad1e5 51.9%,#99c9e0 57.3%,#78b4d5 62.6%,#4b98c6 70.2%,#4390c2 77.2%,#4e9ac7 84.7%,#85bdd9 98.7%,#87beda 99.7%)"></div><div style="top:152px;background:linear-gradient(90deg,#bedbeb 0.3%,#c0dceb 15.9%,#afd4e6 21.8%,#8bc0dc 28.2%,#71b0d3 32.5%,#6eaed2 35.8%,#80bad8 40.1%,#a5cfe3 44.9%,#a9d1e4 51.9%,#94c6de 57.8%,#549ec9 67.5%,#4895c4 71.2%,#4491c2 78.8%,#4f9bc7 85.2%,#84bcd9 98.7%,#86beda 99.7%)"></div><div style="top:153px;background:linear-gradient(90deg,#bedbea 0.3%,#c0dceb 15.9%,#b0d4e6 21.8%,#8cc1dc 28.2%,#72b1d3 32.5%,#70b0d2 35.8%,#83bcd9 40.1%,#a7d0e4 44.9%,#a7d0e4 51.9%,#93c5de 57.3%,#549ec9 66.4%,#4895c4 70.2%,#4491c2 78.8%,#4f9ac7 85.2%,#82bbd9 98.1%,#86bdda 99.7%)"></div><div style="top:154px;background:linear-gradient(90deg,#bedbea 0.3%,#c0dceb 15.3%,#b0d4e7 21.8%,#8dc2dc 28.2%,#73b2d3 32.5%,#72b1d3 35.8%,#86beda 40.1%,#a9d1e5 44.9%,#a6cfe4 51.9%,#92c5de 56.7%,#549ec9 65.3%,#4896c4 68.5%,#4390c2 77.7%,#4e9ac7 85.2%,#7fb9d8 97.0%,#85bdda 99.7%)"></div><div style="top:155px;background:linear-gradient(90deg,#bddbea 0.3%,#c0dceb 14.8%,#b2d5e7 21.2%,#92c5de 27.7%,#76b3d4 32.0%,#73b1d3 35.2%,#86bdda 39.5%,#abd2e5 44.9%,#a2cde3 52.4%,#8dc2dc 56.7%,#519cc8 64.8%,#4794c4 68.0%,#4390c2 78.2%,#4e9ac7 85.2%,#7db8d7 96.5%,#85bdd9 99.7%)"></div><div style="top:156px;background:linear-gradient(90deg,#bddbea 0.3%,#bfdceb 14.2%,#b1d5e7 21.2%,#93c5de 27.7%,#77b4d5 32.0%,#73b2d4 34.7%,#82bbd9 38.4%,#add2e6 44.9%,#a0cce2 52.4%,#8cc1dc 56.2%,#4f9ac7 64.2%,#4490c2 69.1%,#4491c2 80.4%,#4f9bc7 85.8%,#7cb7d6 96.0%,#84bcd9 99.7%)"></div><div style="top:157px;background:linear-gradient(90deg,#bddbea 0.3%,#c0dceb 13.2%,#b1d5e7 21.2%,#93c5de 27.7%,#77b4d5 32.0%,#74b2d4 34.7%,#84bcd9 38.4%,#aed3e6 44.9%,#9ecbe1 52.4%,#8cc1dc 55.6%,#4c99c6 63.7%,#418ec0 70.2%,#4693c3 82.0%,#519cc8 86.3%,#7ab6d6 95.4%,#84bcd9 99.7%)"></div><div style="top:158px;background:linear-gradient(90deg,#bddbea 0.3%,#c0dceb 12.1%,#b0d4e6 21.2%,#92c5de 27.7%,#77b4d5 32.0%,#75b3d4 34.7%,#89bfdb 39.0%,#aed3e6 44.9%,#9dcbe1 51.9%,#8bc1dc 55.1%,#4d99c6 62.6%,#418ec0 68.0%,#438fc1 79.8%,#4e9ac7 85.8%,#78b5d5 94.9%,#83bcd9 99.7%)"></div><div style="top:159px;background:linear-gradient(90deg,#bddbea 0.3%,#c0dceb 11.0%,#aed3e6 21.2%,#95c6df 27.2%,#77b4d5 32.0%,#75b3d4 34.7%,#8ac0db 39.0%,#afd4e6 44.9%,#9dcbe1 51.3%,#8bc0dc 54.6%,#4c98c6 62.1%,#3f8cbf 68.0%,#428ec1 79.8%,#4e9ac7 85.8%,#76b4d5 94.4%,#83bbd9 99.7%)"></div><div style="top:160px;background:linear-gradient(90deg,#bcdbea 0.3%,#bfdceb 10.5%,#a9d1e5 22.3%,#90c4dd 27.7%,#76b3d4 32.0%,#74b2d4 34.7%,#8bc0dc 39.0%,#afd4e6 44.9%,#a5cfe4 48.1%,#93c5de 53.0%,#4b98c6 61.6%,#3e8bbf 67.5%,#3f8cbf 78.8%,#4d99c6 85.8%,#76b3d5 94.4%,#82bbd9 99.7%)"></div><div style="top:161px;background:linear-gradient(90deg,#bcdaea 0.3%,#bfdceb 9.9%,#a5cfe3 22.8%,#8ec2dd 27.7%,#74b2d4 32.0%,#73b1d3 34.7%,#8ac0db 39.0%,#afd4e6 44.9%,#a6cfe4 47.6%,#8ec3dd 53.0%,#4a97c5 61.0%,#3d8abe 66.9%,#3c89be 77.7%,#4c99c6 85.8%,#74b2d4 93.8%,#82bbd8 99.7%)"></div><div style="top:162px;background:linear-gradient(90deg,#bcdaea 0.3%,#bfdceb 9.4%,#a1cce2 23.4%,#8bc0db 27.7%,#71b0d3 32.0%,#71b0d3 34.7%,#89bfdb 39.0%,#aed3e6 44.9%,#a7d0e4 47.0%,#8ec2dd 52.4%,#4a97c5 60.5%,#3c89be 66.4%,#3985bc 77.2%,#4c99c6 85.8%,#74b2d4 93.8%,#81bad8 99.7%)"></div><div style="top:163px;background:linear-gradient(90deg,#bbdaea 0.3%,#bedbeb 8.9%,#99c9e0 24.5%,#83bbd9 28.2%,#6eaed2 32.0%,#6eaed2 34.7%,#8bc0dc 39.5%,#add3e6 44.9%,#a6cfe4 47.0%,#89bfdb 52.4%,#4997c5 59.9%,#3b88bd 66.4%,#3581ba 76.6%,#4693c3 84.1%,#57a0ca 87.9%,#77b4d5 94.9%,#80bad8 99.7%)"></div><div style="top:164px;background:linear-gradient(90deg,#bbdaea 0.3%,#bddbea 8.9%,#94c6de 25.0%,#6cadd1 31.5%,#69abd0 34.1%,#7cb7d7 37.9%,#abd2e5 44.9%,#a3cee3 47.0%,#84bcd9 52.4%,#4996c5 59.4%,#3a87bd 65.9%,#327cb7 76.6%,#428fc1 83.1%,#549ec9 87.4%,#74b2d4 94.4%,#80b9d8 99.7%)"></div><div style="top:165px;background:linear-gradient(90deg,#bbdaea 0.3%,#bcdaea 8.3%,#91c4de 24.5%,#67aacf 31.5%,#65a8ce 34.1%,#78b4d5 37.9%,#a8d0e4 44.9%,#a3cee3 46.5%,#7ab6d6 53.0%,#4996c5 58.9%,#3986bc 65.9%,#2d76b4 76.1%,#3885bc 80.9%,#539dc8 87.4%,#75b2d4 94.9%,#7fb9d8 99.7%)"></div><div style="top:166px;background:linear-gradient(90deg,#bad9e9 0.3%,#bbdaea 8.3%,#8ac0db 24.5%,#61a6cd 31.5%,#5fa5cd 34.1%,#72b1d3 37.9%,#a5cee3 44.9%,#a0cce2 46.5%,#70b0d2 53.5%,#4996c5 58.3%,#3985bc 65.3%,#2c74b3 72.8%,#2a72b2 77.2%,#428ec1 83.6%,#70afd2 93.8%,#7eb9d7 99.7%)"></div><div style="top:167px;background:linear-gradient(90deg,#bad9e9 0.3%,#bad9e9 7.8%,#82bbd9 24.5%,#5ba2cb 31.5%,#59a1cb 34.1%,#6cadd1 37.9%,#92c5de 42.7%,#a1cce2 44.9%,#9ccae1 46.5%,#62a6ce 54.6%,#4996c5 57.8%,#3884bb 65.3%,#256caf 75.5%,#2b73b3 79.3%,#4794c4 85.2%,#72b1d3 94.9%,#7eb8d7 99.7%)"></div><div style="top:168px;background:linear-gradient(90deg,#b9d9e9 0.3%,#b8d9e9 7.8%,#78b4d5 25.0%,#549ec9 31.5%,#529dc8 34.1%,#69abd0 38.4%,#8bc0dc 42.7%,#9ac9e0 44.4%,#9ac9e0 46.0%,#4996c5 57.3%,#3783bb 65.3%,#2166aa 75.5%,#2870b1 79.3%,#4693c3 85.2%,#72b1d3 95.4%,#7db8d7 99.7%)"></div><div style="top:169px;background:linear-gradient(90deg,#b9d9e9 0.3%,#b8d8e9 7.3%,#a1cde2 13.2%,#79b5d5 22.8%,#4d99c6 31.5%,#4d99c6 34.7%,#6dadd1 40.1%,#83bcd9 42.7%,#94c6df 44.4%,#95c6df 46.0%,#78b5d5 49.7%,#4996c5 56.7%,#3682ba 65.3%,#2166aa 72.8%,#1e5fa2 75.5%,#2166aa 78.2%,#337eb8 82.0%,#4895c4 85.8%,#73b1d3 96.0%,#7cb7d7 99.7%)"></div><div style="top:170px;background:linear-gradient(90deg,#b8d8e9 0.3%,#b6d7e8 7.3%,#a0cce2 12.6%,#7ab6d6 20.2%,#5ea4cc 26.6%,#4a97c5 30.4%,#4895c4 34.7%,#539dc8 37.4%,#75b3d4 42.2%,#8fc3dd 44.9%,#89bfdb 46.5%,#72b0d3 49.7%,#4996c5 56.2%,#3682ba 64.8%,#2165aa 71.8%,#1a5898 75.5%,#2064a8 78.8%,#3885bc 83.1%,#4c98c6 86.8%,#76b4d5 97.6%,#7bb7d6 99.7%)"></div><div style="top:171px;background:linear-gradient(90deg,#b8d8e9 0.3%,#b5d7e8 7.3%,#9ccae1 12.6%,#75b3d4 19.1%,#559fc9 26.6%,#4794c4 29.8%,#4491c2 34.1%,#4f9ac7 37.9%,#72b1d3 42.7%,#86bdda 44.9%,#81bad8 46.5%,#6bacd1 49.7%,#4794c4 56.2%,#317cb7 66.4%,#2266ab 70.7%,#154f8c 75.0%,#16518e 76.6%,#256baf 80.4%,#4491c2 85.2%,#65a9cf 93.3%,#7bb6d6 99.7%)"></div><div style="top:172px;background:linear-gradient(90deg,#b7d8e9 0.3%,#b4d6e8 6.7%,#9fcce2 11.6%,#70afd2 18.5%,#4693c3 28.8%,#408cc0 33.6%,#4e9ac7 39.0%,#69abd0 42.7%,#7cb7d7 44.9%,#78b4d5 46.5%,#62a7ce 50.3%,#4693c3 55.6%,#327db8 65.9%,#2166aa 70.2%,#195696 72.3%,#124883 74.5%,#114781 76.1%,#16508e 77.7%,#2064a8 79.8%,#3581ba 83.1%,#4996c4 86.3%,#7ab6d6 99.7%)"></div><div style="top:173px;background:linear-gradient(90deg,#b7d8e8 0.3%,#b3d6e7 6.7%,#9fcce2 11.0%,#83bbd9 14.8%,#65a9cf 19.1%,#4592c2 27.7%,#3c88be 33.1%,#4895c4 39.0%,#5ba2cb 42.2%,#73b1d3 44.9%,#6fafd2 46.5%,#4895c4 54.6%,#3986bc 61.6%,#317cb7 65.9%,#2266ab 69.6%,#185594 71.8%,#114782 73.4%,#114680 77.2%,#2266ab 80.4%,#4390c2 85.2%,#5aa1cb 91.1%,#79b5d6 99.7%)"></div><div style="top:174px;background:linear-gradient(90deg,#b6d7e8 0.3%,#b1d5e7 6.7%,#9dcae1 11.0%,#82bbd8 14.2%,#60a5cd 18.5%,#4895c4 25.0%,#3885bc 32.5%,#418ec0 37.9%,#4f9bc7 41.7%,#69abd0 44.9%,#66a9cf 46.5%,#4491c2 55.1%,#337eb8 65.3%,#2268ad 69.1%,#195696 71.2%,#114780 72.8%,#114781 77.7%,#1e5fa2 79.8%,#276eb0 81.5%,#4390c1 85.2%,#579fca 90.6%,#79b5d5 99.7%)"></div><div style="top:175px;background:linear-gradient(90deg,#b6d7e8 0.3%,#b1d5e7 6.2%,#9ecbe1 10.5%,#87beda 13.2%,#60a5cd 17.5%,#4a98c5 21.8%,#3682ba 32.0%,#3a87bd 36.8%,#4b98c6 42.2%,#5fa5cd 44.9%,#5ca3cb 47.0%,#3e8bbf 56.7%,#347fb9 64.8%,#2266ab 69.1%,#175291 71.2%,#114882 72.3%,#10467f 75.0%,#10467f 77.7%,#2063a7 80.4%,#276db0 81.5%,#428fc1 85.2%,#559fc9 90.6%,#78b5d5 99.7%)"></div><div style="top:176px;background:linear-gradient(90deg,#b5d7e8 0.3%,#b0d4e7 6.2%,#9bcae1 10.5%,#7db8d7 13.7%,#569fc9 18.0%,#4895c4 21.2%,#347fb9 32.0%,#3985bc 37.4%,#4c99c6 43.3%,#58a0ca 45.4%,#3a86bd 59.4%,#347fb9 64.8%,#2165a9 69.1%,#195797 70.7%,#104680 72.3%,#10467f 77.7%,#195798 79.3%,#2368ad 80.9%,#428fc1 85.2%,#539dc8 90.1%,#6badd1 96.5%,#78b4d5 99.7%)"></div><div style="top:177px;background:linear-gradient(90deg,#b5d7e8 0.3%,#afd4e6 6.2%,#9dcbe1 9.9%,#85bdd9 12.6%,#549ec9 17.5%,#4794c4 20.2%,#317cb7 32.0%,#3682ba 37.4%,#509bc7 46.0%,#3986bc 59.9%,#347fb9 64.8%,#2369ad 68.5%,#195696 70.7%,#10467f 72.3%,#10467f 77.7%,#2368ad 80.9%,#428fc1 85.2%,#529cc8 90.1%,#68aad0 96.0%,#77b4d5 99.7%)"></div><div style="top:178px;background:linear-gradient(90deg,#b5d7e8 0.3%,#aed3e6 6.2%,#9bcae1 9.9%,#81bad8 12.6%,#539dc9 16.9%,#4794c4 19.1%,#307ab6 31.5%,#337eb8 36.8%,#4a97c5 46.0%,#3f8cbf 54.6%,#3885bc 61.6%,#327db8 65.3%,#2369ad 68.5%,#195696 70.7%,#10467f 72.3%,#114680 77.7%,#2064a7 80.4%,#2a72b2 82.0%,#3f8cbf 84.7%,#4d99c6 88.4%,#5fa5cd 94.4%,#77b4d5 99.7%)"></div></div><svg width="685" height="528" viewBox="0 0 685 528" text-rendering="geometricPrecision" font-family="Liberation Sans, sans-serif"><text x="-0.2" y="17.7" font-size="24" fill="#111">a</text>
<text transform="matrix(1 0 0 1.12 28.2 37.1)" font-size="9.3" text-anchor="end" fill="#1e1e1e" stroke="#1e1e1e" stroke-width="0.18" >3.0</text>
<text transform="matrix(1 0 0 1.12 28.2 64.65)" font-size="9.3" text-anchor="end" fill="#1e1e1e" stroke="#1e1e1e" stroke-width="0.18" >2.5</text>
<text transform="matrix(1 0 0 1.12 28.2 92.15)" font-size="9.3" text-anchor="end" fill="#1e1e1e" stroke="#1e1e1e" stroke-width="0.18" >2.0</text>
<text transform="matrix(1 0 0 1.12 28.2 119.65)" font-size="9.3" text-anchor="end" fill="#1e1e1e" stroke="#1e1e1e" stroke-width="0.18" >1.5</text>
<text transform="matrix(1 0 0 1.12 28.2 147.05)" font-size="9.3" text-anchor="end" fill="#1e1e1e" stroke="#1e1e1e" stroke-width="0.18" >1.0</text>
<text transform="matrix(1 0 0 1.12 28.2 174.75)" font-size="9.3" text-anchor="end" fill="#1e1e1e" stroke="#1e1e1e" stroke-width="0.18" >0.5</text>
<text transform="matrix(1 0 0 1.12 28.2 202.55)" font-size="9.3" text-anchor="end" fill="#1e1e1e" stroke="#1e1e1e" stroke-width="0.18" >0.0</text>
<text transform="translate(9.1,113.6) rotate(-90) scale(0.97,1.02)" font-size="12" font-weight="bold" text-anchor="middle" fill="#000" stroke="#000" stroke-width="0.45">MAE</text>
<rect x="42.05" y="57.1" width="21.9" height="142.9" fill="#231f20"/>
<rect x="72.3" y="41.9" width="21.9" height="158.1" fill="#4575bb"/>
<rect x="102.3" y="41.7" width="21.9" height="158.3" fill="#fecf33"/>
<rect x="132.3" y="44.9" width="21.9" height="155.1" fill="#6abe68"/>
<rect x="162.3" y="51.1" width="21.9" height="148.9" fill="#ee3a48"/>
<rect x="192.4" y="35.9" width="21.9" height="164.1" fill="#c56fae"/>
<rect x="222.5" y="37.9" width="21.9" height="162.1" fill="#8291c9"/>
<line x1="32" y1="57.45" x2="250" y2="57.45" stroke="#6d6d6d" stroke-width="1.3" stroke-dasharray="5.9 6.15" stroke-dashoffset="3.25"/>
<text transform="matrix(1 0 0 1.13 256.0 60.1)" font-size="9.2" text-anchor="start" fill="#222" stroke="#222" stroke-width="0.18" >2.604</text>
<line x1="31.5" y1="200" x2="31.5" y2="32" stroke="#666" stroke-width="1"/>
<path d="M31.45 27.9 L33.1 33.1 L29.8 33.1 Z" fill="#111"/>
<line x1="31" y1="200.1" x2="308" y2="200.1" stroke="#555" stroke-width="1"/>
<path d="M312.9 200.1 L306.9 198.4 L306.9 201.8 Z" fill="#111"/>
<rect x="252.3" y="79.00" width="10.7" height="9.9" fill="#000000"/>
<text transform="matrix(1 0 0 1.13 266.2 86.8)" font-size="9.2" text-anchor="start" fill="#1a1a1a" stroke="#1a1a1a" stroke-width="0.18" >CLUSTER</text>
<rect x="252.3" y="94.62" width="10.7" height="9.9" fill="#4575bb"/>
<text transform="matrix(1 0 0 1.13 266.2 102.42)" font-size="9.2" text-anchor="start" fill="#1a1a1a" stroke="#1a1a1a" stroke-width="0.18" >L. R.</text>
<rect x="252.3" y="110.24" width="10.7" height="9.9" fill="#fecf33"/>
<text transform="matrix(1 0 0 1.13 266.2 118.04)" font-size="9.2" text-anchor="start" fill="#1a1a1a" stroke="#1a1a1a" stroke-width="0.18" >R. F. R.</text>
<rect x="252.3" y="125.86" width="10.7" height="9.9" fill="#6abe68"/>
<text transform="matrix(1 0 0 1.13 266.2 133.66)" font-size="9.2" text-anchor="start" fill="#1a1a1a" stroke="#1a1a1a" stroke-width="0.18" >S. V. R.</text>
<rect x="252.3" y="141.48" width="10.7" height="9.9" fill="#ee3a48"/>
<text transform="matrix(1 0 0 1.13 266.2 149.28)" font-size="9.2" text-anchor="start" fill="#1a1a1a" stroke="#1a1a1a" stroke-width="0.18" >G. P. R.</text>
<rect x="252.3" y="157.10" width="10.7" height="9.9" fill="#c56fae"/>
<text transform="matrix(1 0 0 1.13 266.2 164.9)" font-size="9.2" text-anchor="start" fill="#1a1a1a" stroke="#1a1a1a" stroke-width="0.18" >N. N.</text>
<rect x="252.3" y="172.72" width="10.7" height="9.9" fill="#8291c9"/>
<text transform="matrix(1 0 0 1.13 266.2 180.52)" font-size="9.2" text-anchor="start" fill="#1a1a1a" stroke="#1a1a1a" stroke-width="0.18" >Transformer</text>
<text x="372.8" y="16.9" font-size="24" fill="#111">b</text>
<text transform="matrix(1 0 0 1.06 401.5 44.55)" font-size="9.3" text-anchor="end" fill="#1e1e1e" stroke="#1e1e1e" stroke-width="0.18" >4.0</text>
<text transform="matrix(1 0 0 1.06 401.5 71.95)" font-size="9.3" text-anchor="end" fill="#1e1e1e" stroke="#1e1e1e" stroke-width="0.18" >3.5</text>
<text transform="matrix(1 0 0 1.06 401.5 99.45)" font-size="9.3" text-anchor="end" fill="#1e1e1e" stroke="#1e1e1e" stroke-width="0.18" >3.0</text>
<text transform="matrix(1 0 0 1.06 401.5 127.15)" font-size="9.3" text-anchor="end" fill="#1e1e1e" stroke="#1e1e1e" stroke-width="0.18" >2.5</text>
<text transform="matrix(1 0 0 1.06 401.5 154.65)" font-size="9.3" text-anchor="end" fill="#1e1e1e" stroke="#1e1e1e" stroke-width="0.18" >2.0</text>
<text transform="matrix(1 0 0 1.06 401.5 181.85)" font-size="9.3" text-anchor="end" fill="#1e1e1e" stroke="#1e1e1e" stroke-width="0.18" >1.5</text>
<text transform="translate(382.2,113.6) rotate(-90)" font-size="12" font-weight="bold" text-anchor="middle" fill="#000" stroke="#000" stroke-width="0.3">MAE</text>
<text transform="matrix(1 0 0 1.07 419.4 212.1)" font-size="9.2" text-anchor="middle" fill="#1e1e1e" stroke="#1e1e1e" stroke-width="0.18" >0:00</text>
<text transform="matrix(1 0 0 1.07 454.8 212.1)" font-size="9.2" text-anchor="middle" fill="#1e1e1e" stroke="#1e1e1e" stroke-width="0.18" >3:00</text>
<text transform="matrix(1 0 0 1.07 490.1 212.1)" font-size="9.2" text-anchor="middle" fill="#1e1e1e" stroke="#1e1e1e" stroke-width="0.18" >6:00</text>
<text transform="matrix(1 0 0 1.07 525.5 212.1)" font-size="9.2" text-anchor="middle" fill="#1e1e1e" stroke="#1e1e1e" stroke-width="0.18" >9:00</text>
<text transform="matrix(1 0 0 1.07 560.4 212.1)" font-size="9.2" text-anchor="middle" fill="#1e1e1e" stroke="#1e1e1e" stroke-width="0.18" >12:00</text>
<text transform="matrix(1 0 0 1.07 595.8 212.1)" font-size="9.2" text-anchor="middle" fill="#1e1e1e" stroke="#1e1e1e" stroke-width="0.18" >15:00</text>
<text transform="matrix(1 0 0 1.07 630.9 212.1)" font-size="9.2" text-anchor="middle" fill="#1e1e1e" stroke="#1e1e1e" stroke-width="0.18" >18:00</text>
<text transform="matrix(1 0 0 1.07 666.4 212.1)" font-size="9.2" text-anchor="middle" fill="#1e1e1e" stroke="#1e1e1e" stroke-width="0.18" >21:00</text>
<text x="541.6" y="232.2" font-size="12" font-weight="bold" text-anchor="middle" fill="#000" stroke="#000" stroke-width="0.3">Time</text>
<line x1="405" y1="200" x2="405" y2="33" stroke="#a0a0a0" stroke-width="1.5"/>
<path d="M405 28.3 L406.4 33.3 L403.6 33.3 Z" fill="#111"/>
<line x1="404.3" y1="200.3" x2="672" y2="200.3" stroke="#555" stroke-width="1"/>
<path d="M677.7 200.3 L671.6 198.6 L671.6 202 Z" fill="#111"/>
<polyline points="417.3,129.3 452.7,176.0 488.0,79.2 523.4,66.4 558.8,102.3 594.3,70.3 629.6,93.8 665.0,113.0" fill="none" stroke="#fecf33" stroke-width="1.0" stroke-linejoin="round"/>
<circle cx="417.3" cy="129.3" r="1.7" fill="#fecf33"/>
<circle cx="452.7" cy="176.0" r="1.7" fill="#fecf33"/>
<circle cx="488.0" cy="79.2" r="1.7" fill="#fecf33"/>
<circle cx="523.4" cy="66.4" r="1.7" fill="#fecf33"/>
<circle cx="558.8" cy="102.3" r="1.7" fill="#fecf33"/>
<circle cx="594.3" cy="70.3" r="1.7" fill="#fecf33"/>
<circle cx="629.6" cy="93.8" r="1.7" fill="#fecf33"/>
<circle cx="665.0" cy="113.0" r="1.7" fill="#fecf33"/>
<polyline points="417.3,142.8 452.7,181.5 488.0,79.0 523.4,82.0 558.8,115.4 594.3,82.6 629.6,105.5 665.0,114.1" fill="none" stroke="#ee3a48" stroke-width="1.0" stroke-linejoin="round"/>
<circle cx="417.3" cy="142.8" r="1.7" fill="#ee3a48"/>
<circle cx="452.7" cy="181.5" r="1.7" fill="#ee3a48"/>
<circle cx="488.0" cy="79.0" r="1.7" fill="#ee3a48"/>
<circle cx="523.4" cy="82.0" r="1.7" fill="#ee3a48"/>
<circle cx="558.8" cy="115.4" r="1.7" fill="#ee3a48"/>
<circle cx="594.3" cy="82.6" r="1.7" fill="#ee3a48"/>
<circle cx="629.6" cy="105.5" r="1.7" fill="#ee3a48"/>
<circle cx="665.0" cy="114.1" r="1.7" fill="#ee3a48"/>
<polyline points="417.3,130.0 452.7,176.5 488.0,56.0 523.4,74.2 558.8,112.6 594.3,85.2 629.6,104.8 665.0,112.1" fill="none" stroke="#6abe68" stroke-width="1.0" stroke-linejoin="round"/>
<circle cx="417.3" cy="130.0" r="1.7" fill="#6abe68"/>
<circle cx="452.7" cy="176.5" r="1.7" fill="#6abe68"/>
<circle cx="488.0" cy="56.0" r="1.7" fill="#6abe68"/>
<circle cx="523.4" cy="74.2" r="1.7" fill="#6abe68"/>
<circle cx="558.8" cy="112.6" r="1.7" fill="#6abe68"/>
<circle cx="594.3" cy="85.2" r="1.7" fill="#6abe68"/>
<circle cx="629.6" cy="104.8" r="1.7" fill="#6abe68"/>
<circle cx="665.0" cy="112.1" r="1.7" fill="#6abe68"/>
<polyline points="417.3,132.3 452.7,179.5 488.0,37.5 523.4,78.2 558.8,107.3 594.3,80.3 629.6,103.7 665.0,113.5" fill="none" stroke="#4575bb" stroke-width="1.0" stroke-linejoin="round"/>
<circle cx="417.3" cy="132.3" r="1.7" fill="#4575bb"/>
<circle cx="452.7" cy="179.5" r="1.7" fill="#4575bb"/>
<circle cx="488.0" cy="37.5" r="1.7" fill="#4575bb"/>
<circle cx="523.4" cy="78.2" r="1.7" fill="#4575bb"/>
<circle cx="558.8" cy="107.3" r="1.7" fill="#4575bb"/>
<circle cx="594.3" cy="80.3" r="1.7" fill="#4575bb"/>
<circle cx="629.6" cy="103.7" r="1.7" fill="#4575bb"/>
<circle cx="665.0" cy="113.5" r="1.7" fill="#4575bb"/>
<polyline points="417.3,126.9 452.7,174.7 488.0,34.7 523.4,69.0 558.8,95.5 594.3,71.7 629.6,98.7 665.0,114.7" fill="none" stroke="#c56fae" stroke-width="1.0" stroke-linejoin="round"/>
<circle cx="417.3" cy="126.9" r="1.7" fill="#c56fae"/>
<circle cx="452.7" cy="174.7" r="1.7" fill="#c56fae"/>
<circle cx="488.0" cy="34.7" r="1.7" fill="#c56fae"/>
<circle cx="523.4" cy="69.0" r="1.7" fill="#c56fae"/>
<circle cx="558.8" cy="95.5" r="1.7" fill="#c56fae"/>
<circle cx="594.3" cy="71.7" r="1.7" fill="#c56fae"/>
<circle cx="629.6" cy="98.7" r="1.7" fill="#c56fae"/>
<circle cx="665.0" cy="114.7" r="1.7" fill="#c56fae"/>
<polyline points="417.3,131.8 452.7,175.5 488.0,43.2 523.4,64.1 558.8,96.2 594.3,76.2 629.6,97.8 665.0,111.0" fill="none" stroke="#8291c9" stroke-width="1.0" stroke-linejoin="round"/>
<circle cx="417.3" cy="131.8" r="1.7" fill="#8291c9"/>
<circle cx="452.7" cy="175.5" r="1.7" fill="#8291c9"/>
<circle cx="488.0" cy="43.2" r="1.7" fill="#8291c9"/>
<circle cx="523.4" cy="64.1" r="1.7" fill="#8291c9"/>
<circle cx="558.8" cy="96.2" r="1.7" fill="#8291c9"/>
<circle cx="594.3" cy="76.2" r="1.7" fill="#8291c9"/>
<circle cx="629.6" cy="97.8" r="1.7" fill="#8291c9"/>
<circle cx="665.0" cy="111.0" r="1.7" fill="#8291c9"/>
<polyline points="417.3,156.2 452.7,177.1 488.0,118.9 523.4,81.1 558.8,104.5 594.3,84.2 629.6,112.8 665.0,117.0" fill="none" stroke="#231f20" stroke-width="2.0" stroke-linejoin="round"/>
<circle cx="417.3" cy="156.2" r="1.9" fill="#231f20"/>
<circle cx="452.7" cy="177.1" r="1.9" fill="#231f20"/>
<circle cx="488.0" cy="118.9" r="1.9" fill="#231f20"/>
<circle cx="523.4" cy="81.1" r="1.9" fill="#231f20"/>
<circle cx="558.8" cy="104.5" r="1.9" fill="#231f20"/>
<circle cx="594.3" cy="84.2" r="1.9" fill="#231f20"/>
<circle cx="629.6" cy="112.8" r="1.9" fill="#231f20"/>
<circle cx="665.0" cy="117.0" r="1.9" fill="#231f20"/>
<text x="0.25" y="261.2" font-size="24" fill="#111">c</text>
<rect x="30" y="270" width="282.7" height="52.7" fill="#c2d6cf"/>
<rect x="30" y="322.7" width="282.7" height="105.5" fill="#fce9e1"/>
<rect x="30" y="428.2" width="282.7" height="99" fill="#c5d0da"/>
<path d="M30.3 527 V270.3 H312.5 V527" fill="none" stroke="#5f6664" stroke-width="1.1"/>
<line x1="30" y1="527" x2="312.7" y2="527" stroke="#444" stroke-width="1"/>
<path d="M79.25 284.5 L99.4 303.5 V310.8 H106.0 V303.5 L126.15 284.5 Z" fill="#e6e6e4"/><ellipse cx="102.7" cy="284.1" rx="23.45" ry="1.9" fill="#f2f2f1"/>
<path d="M218.45000000000002 284.59999999999997 L238.6 303.5 V310.9 H245.20000000000002 V303.5 L265.35 284.59999999999997 Z" fill="#e6e6e4"/><ellipse cx="241.9" cy="284.2" rx="23.45" ry="1.9" fill="#f2f2f1"/>
<circle cx="54.90" cy="336.30" r="5.9" fill="#5a5a5a"/>
<circle cx="56.40" cy="335.40" r="5.9" fill="#d8bf72"/>
<circle cx="83.80" cy="336.30" r="5.9" fill="#5a5a5a"/>
<circle cx="85.30" cy="335.40" r="5.9" fill="#d8bf72"/>
<circle cx="112.70" cy="336.30" r="5.9" fill="#5a5a5a"/>
<circle cx="114.20" cy="335.40" r="5.9" fill="#d8bf72"/>
<circle cx="141.60" cy="336.30" r="5.9" fill="#5a5a5a"/>
<circle cx="143.10" cy="335.40" r="5.9" fill="#d8bf72"/>
<circle cx="170.50" cy="336.30" r="5.9" fill="#5a5a5a"/>
<circle cx="172.00" cy="335.40" r="5.9" fill="#d8bf72"/>
<circle cx="199.40" cy="336.30" r="5.9" fill="#5a5a5a"/>
<circle cx="200.90" cy="335.40" r="5.9" fill="#d8bf72"/>
<circle cx="228.30" cy="336.30" r="5.9" fill="#5a5a5a"/>
<circle cx="229.80" cy="335.40" r="5.9" fill="#d8bf72"/>
<circle cx="257.20" cy="336.30" r="5.9" fill="#5a5a5a"/>
<circle cx="258.70" cy="335.40" r="5.9" fill="#d8bf72"/>
<circle cx="286.10" cy="336.30" r="5.9" fill="#5a5a5a"/>
<circle cx="287.60" cy="335.40" r="5.9" fill="#d8bf72"/>
<circle cx="39.70" cy="360.80" r="5.9" fill="#5a5a5a"/>
<circle cx="41.20" cy="359.90" r="5.9" fill="#d8bf72"/>
<circle cx="68.60" cy="360.80" r="5.9" fill="#5a5a5a"/>
<circle cx="70.10" cy="359.90" r="5.9" fill="#d8bf72"/>
<circle cx="97.50" cy="360.80" r="5.9" fill="#5a5a5a"/>
<circle cx="99.00" cy="359.90" r="5.9" fill="#d8bf72"/>
<circle cx="126.40" cy="360.80" r="5.9" fill="#5a5a5a"/>
<circle cx="127.90" cy="359.90" r="5.9" fill="#d8bf72"/>
<circle cx="155.30" cy="360.80" r="5.9" fill="#5a5a5a"/>
<circle cx="156.80" cy="359.90" r="5.9" fill="#d8bf72"/>
<circle cx="184.20" cy="360.80" r="5.9" fill="#5a5a5a"/>
<circle cx="185.70" cy="359.90" r="5.9" fill="#d8bf72"/>
<circle cx="213.10" cy="360.80" r="5.9" fill="#5a5a5a"/>
<circle cx="214.60" cy="359.90" r="5.9" fill="#d8bf72"/>
<circle cx="242.00" cy="360.80" r="5.9" fill="#5a5a5a"/>
<circle cx="243.50" cy="359.90" r="5.9" fill="#d8bf72"/>
<circle cx="270.90" cy="360.80" r="5.9" fill="#5a5a5a"/>
<circle cx="272.40" cy="359.90" r="5.9" fill="#d8bf72"/>
<circle cx="299.80" cy="360.80" r="5.9" fill="#5a5a5a"/>
<circle cx="301.30" cy="359.90" r="5.9" fill="#d8bf72"/>
<circle cx="54.90" cy="387.00" r="5.9" fill="#5a5a5a"/>
<circle cx="56.40" cy="386.10" r="5.9" fill="#d8bf72"/>
<circle cx="83.80" cy="387.00" r="5.9" fill="#5a5a5a"/>
<circle cx="85.30" cy="386.10" r="5.9" fill="#d8bf72"/>
<circle cx="112.70" cy="387.00" r="5.9" fill="#5a5a5a"/>
<circle cx="114.20" cy="386.10" r="5.9" fill="#d8bf72"/>
<circle cx="141.60" cy="387.00" r="5.9" fill="#5a5a5a"/>
<circle cx="143.10" cy="386.10" r="5.9" fill="#d8bf72"/>
<circle cx="170.50" cy="387.00" r="5.9" fill="#5a5a5a"/>
<circle cx="172.00" cy="386.10" r="5.9" fill="#d8bf72"/>
<circle cx="199.40" cy="387.00" r="5.9" fill="#5a5a5a"/>
<circle cx="200.90" cy="386.10" r="5.9" fill="#d8bf72"/>
<circle cx="228.30" cy="387.00" r="5.9" fill="#5a5a5a"/>
<circle cx="229.80" cy="386.10" r="5.9" fill="#d8bf72"/>
<circle cx="257.20" cy="387.00" r="5.9" fill="#5a5a5a"/>
<circle cx="258.70" cy="386.10" r="5.9" fill="#d8bf72"/>
<circle cx="286.10" cy="387.00" r="5.9" fill="#5a5a5a"/>
<circle cx="287.60" cy="386.10" r="5.9" fill="#d8bf72"/>
<circle cx="39.70" cy="412.50" r="5.9" fill="#5a5a5a"/>
<circle cx="41.20" cy="411.60" r="5.9" fill="#d8bf72"/>
<circle cx="68.60" cy="412.50" r="5.9" fill="#5a5a5a"/>
<circle cx="70.10" cy="411.60" r="5.9" fill="#d8bf72"/>
<circle cx="97.50" cy="412.50" r="5.9" fill="#5a5a5a"/>
<circle cx="99.00" cy="411.60" r="5.9" fill="#d8bf72"/>
<circle cx="126.40" cy="412.50" r="5.9" fill="#5a5a5a"/>
<circle cx="127.90" cy="411.60" r="5.9" fill="#d8bf72"/>
<circle cx="155.30" cy="412.50" r="5.9" fill="#5a5a5a"/>
<circle cx="156.80" cy="411.60" r="5.9" fill="#d8bf72"/>
<circle cx="184.20" cy="412.50" r="5.9" fill="#5a5a5a"/>
<circle cx="185.70" cy="411.60" r="5.9" fill="#d8bf72"/>
<circle cx="213.10" cy="412.50" r="5.9" fill="#5a5a5a"/>
<circle cx="214.60" cy="411.60" r="5.9" fill="#d8bf72"/>
<circle cx="242.00" cy="412.50" r="5.9" fill="#5a5a5a"/>
<circle cx="243.50" cy="411.60" r="5.9" fill="#d8bf72"/>
<circle cx="270.90" cy="412.50" r="5.9" fill="#5a5a5a"/>
<circle cx="272.40" cy="411.60" r="5.9" fill="#d8bf72"/>
<circle cx="299.80" cy="412.50" r="5.9" fill="#5a5a5a"/>
<circle cx="301.30" cy="411.60" r="5.9" fill="#d8bf72"/>
<rect x="52.20" y="466.6" width="9.5" height="61" fill="#94a9d9"/>
<path d="M52.80 528 V467.2 H61.70" fill="none" stroke="#5d5f63" stroke-width="1.3"/>
<rect x="81.08" y="466.6" width="9.5" height="61" fill="#94a9d9"/>
<path d="M81.68 528 V467.2 H90.58" fill="none" stroke="#5d5f63" stroke-width="1.3"/>
<rect x="109.96" y="466.6" width="9.5" height="61" fill="#94a9d9"/>
<path d="M110.56 528 V467.2 H119.46" fill="none" stroke="#5d5f63" stroke-width="1.3"/>
<rect x="138.84" y="466.6" width="9.5" height="61" fill="#94a9d9"/>
<path d="M139.44 528 V467.2 H148.34" fill="none" stroke="#5d5f63" stroke-width="1.3"/>
<rect x="167.72" y="466.6" width="9.5" height="61" fill="#94a9d9"/>
<path d="M168.32 528 V467.2 H177.22" fill="none" stroke="#5d5f63" stroke-width="1.3"/>
<rect x="196.60" y="466.6" width="9.5" height="61" fill="#94a9d9"/>
<path d="M197.20 528 V467.2 H206.10" fill="none" stroke="#5d5f63" stroke-width="1.3"/>
<rect x="225.48" y="466.6" width="9.5" height="61" fill="#94a9d9"/>
<path d="M226.08 528 V467.2 H234.98" fill="none" stroke="#5d5f63" stroke-width="1.3"/>
<rect x="254.36" y="466.6" width="9.5" height="61" fill="#94a9d9"/>
<path d="M254.96 528 V467.2 H263.86" fill="none" stroke="#5d5f63" stroke-width="1.3"/>
<rect x="283.24" y="466.6" width="9.5" height="61" fill="#94a9d9"/>
<path d="M283.84 528 V467.2 H292.74" fill="none" stroke="#5d5f63" stroke-width="1.3"/>
<line x1="26.7" y1="268.8" x2="316.5" y2="268.8" stroke="#d81d5c" stroke-width="1.9" stroke-dasharray="5.8 6.7" stroke-dashoffset="2.6"/>
<line x1="26.7" y1="324.6" x2="316.5" y2="324.6" stroke="#d81d5c" stroke-width="1.9" stroke-dasharray="5.8 6.7" stroke-dashoffset="2.6"/>
<line x1="27.7" y1="267.8" x2="27.7" y2="325.6" stroke="#d81d5c" stroke-width="1.9" stroke-dasharray="7.3 3.3" stroke-dashoffset="2.5"/>
<line x1="315.3" y1="267.8" x2="315.3" y2="325.6" stroke="#d81d5c" stroke-width="1.9" stroke-dasharray="7.3 3.3" stroke-dashoffset="2.5"/>
<rect x="23" y="318.3" width="297" height="113.5" fill="none" stroke="#1f7bc1" stroke-width="1.5" stroke-dasharray="2.8 2.3"/>
<path d="M322.5 299.4 H351.8 V499.3 H518" fill="none" stroke="#dc1f5f" stroke-width="1.4"/>
<path d="M530.3 499.3 L516.3 495.6 L516.3 503 Z" fill="#dc1f5f"/>
<path d="M326.3 374.4 H388" fill="none" stroke="#1f7bc1" stroke-width="1.4"/>
<path d="M400 374.4 L386 371 L386 377.8 Z" fill="#1f7bc1"/>
<text x="372.15" y="260.8" font-size="24" fill="#111">d</text>
<rect x="376" y="269.3" width="48.8" height="34.1" fill="#fbe8df"/>
<circle cx="381.2" cy="275.8" r="2.5" fill="#d8bd6c"/>
<circle cx="394.0" cy="275.8" r="2.5" fill="#d8bd6c"/>
<circle cx="406.4" cy="275.8" r="2.5" fill="#d8bd6c"/>
<circle cx="418.7" cy="275.8" r="2.5" fill="#d8bd6c"/>
<circle cx="381.2" cy="298.3" r="2.5" fill="#d8bd6c"/>
<circle cx="394.0" cy="298.3" r="2.5" fill="#d8bd6c"/>
<circle cx="406.4" cy="298.3" r="2.5" fill="#d8bd6c"/>
<circle cx="418.7" cy="298.3" r="2.5" fill="#d8bd6c"/>
<path d="M400.5 287.3 C402.5 284.8 404 284.1 405.9 284.1 C408.8 284.1 410.7 285.5 410.7 287.4 C410.7 289.3 408.8 290.6 405.9 290.6 C404 290.6 402.5 289.8 400.5 287.3 C398.5 284.8 397 284.1 395 284.1 C392.2 284.1 390.3 285.5 390.3 287.4 C390.3 289.3 392.2 290.6 395 290.6 C397 290.6 398.5 289.8 400.5 287.3 Z" fill="none" stroke="#1a1a1a" stroke-width="1.05"/>
<path d="M397.6 289.6 C399 288.8 400 287.8 400.5 287.3 C401.2 286.5 402.3 285.3 403.6 284.7" fill="none" stroke="#1a1a1a" stroke-width="1.5"/>
<text transform="matrix(1 0 0 1.13 375.4 319.8)" font-size="9.3" text-anchor="start" fill="#1a1a1a" stroke="#1a1a1a" stroke-width="0.18" >Infinite pegs</text>
<rect x="375.5" y="444.2" width="48.6" height="34.2" fill="#fbe9e1"/>
<text transform="matrix(1 0 0 1.13 382.3 493.6)" font-size="9.2" text-anchor="start" fill="#1a1a1a" stroke="#1a1a1a" stroke-width="0.18" >No pegs</text>

<path d="M456.3 287 H641.6 V465.3" fill="none" stroke="#6a6a6a" stroke-width="1.3"/>
<path d="M456.3 286.4 V465.3 H641.6" fill="none" stroke="#2b2b2b" stroke-width="1.1"/>
<line x1="452.8" y1="286.9" x2="456.3" y2="286.9" stroke="#333" stroke-width="1"/>
<text transform="matrix(1 0 0 1.02 447.4 290.0)" font-size="9.2" text-anchor="end" fill="#1e1e1e" stroke="#1e1e1e" stroke-width="0.18" >1.0</text>
<line x1="452.8" y1="375.6" x2="456.3" y2="375.6" stroke="#333" stroke-width="1"/>
<text transform="matrix(1 0 0 1.02 447.4 378.7)" font-size="9.2" text-anchor="end" fill="#1e1e1e" stroke="#1e1e1e" stroke-width="0.18" >0.5</text>
<line x1="452.8" y1="465.0" x2="456.3" y2="465.0" stroke="#333" stroke-width="1"/>
<text transform="matrix(1 0 0 1.02 447.4 468.1)" font-size="9.2" text-anchor="end" fill="#1e1e1e" stroke="#1e1e1e" stroke-width="0.18" >0.0</text>
<line x1="456.3" y1="465" x2="456.3" y2="468.7" stroke="#333" stroke-width="1"/>
<text transform="matrix(1 0 0 1.02 456.5 481.1)" font-size="9.2" text-anchor="middle" fill="#1e1e1e" stroke="#1e1e1e" stroke-width="0.18" >0.0</text>
<line x1="548.7" y1="465" x2="548.7" y2="468.7" stroke="#333" stroke-width="1"/>
<text transform="matrix(1 0 0 1.02 548.9000000000001 481.1)" font-size="9.2" text-anchor="middle" fill="#1e1e1e" stroke="#1e1e1e" stroke-width="0.18" >0.5</text>
<line x1="641.2" y1="465" x2="641.2" y2="468.7" stroke="#333" stroke-width="1"/>
<text transform="matrix(1 0 0 1.02 641.4000000000001 481.1)" font-size="9.2" text-anchor="middle" fill="#1e1e1e" stroke="#1e1e1e" stroke-width="0.18" >1.0</text>
<text x="548.5" y="280.1" font-size="12.5" font-weight="bold" text-anchor="middle" fill="#000" stroke="#000" stroke-width="0.25">&#916;MAE</text>
<text transform="translate(420.2,374.3) rotate(-90)" font-size="11.8" font-weight="bold" text-anchor="middle" fill="#000" stroke="#000" stroke-width="0.3">R</text>
<text x="544.0" y="502.3" font-size="11.5" font-weight="bold" fill="#000" stroke="#000" stroke-width="0.3">C</text>
<defs><linearGradient id="cb" x1="0" y1="0" x2="0" y2="1"><stop offset="0.000" stop-color="#10467f"/><stop offset="0.025" stop-color="#144d89"/><stop offset="0.050" stop-color="#175492"/><stop offset="0.075" stop-color="#1b5b9c"/><stop offset="0.100" stop-color="#1e5fa2"/><stop offset="0.125" stop-color="#2063a7"/><stop offset="0.150" stop-color="#2268ac"/><stop offset="0.175" stop-color="#256baf"/><stop offset="0.200" stop-color="#286fb1"/><stop offset="0.225" stop-color="#2b73b2"/><stop offset="0.250" stop-color="#2f78b5"/><stop offset="0.275" stop-color="#337eb8"/><stop offset="0.300" stop-color="#3784bb"/><stop offset="0.325" stop-color="#3d8abe"/><stop offset="0.350" stop-color="#4390c1"/><stop offset="0.375" stop-color="#4996c5"/><stop offset="0.400" stop-color="#529dc8"/><stop offset="0.425" stop-color="#5ea4cc"/><stop offset="0.450" stop-color="#69abd0"/><stop offset="0.475" stop-color="#75b3d4"/><stop offset="0.500" stop-color="#81bad8"/><stop offset="0.525" stop-color="#8cc1dc"/><stop offset="0.550" stop-color="#96c7df"/><stop offset="0.575" stop-color="#9ecbe2"/><stop offset="0.600" stop-color="#a6cfe4"/><stop offset="0.625" stop-color="#afd4e6"/><stop offset="0.650" stop-color="#b7d8e9"/><stop offset="0.675" stop-color="#bfdceb"/><stop offset="0.700" stop-color="#c7e0ed"/><stop offset="0.725" stop-color="#cfe4ef"/><stop offset="0.750" stop-color="#d7e8f1"/><stop offset="0.775" stop-color="#dfecf3"/><stop offset="0.800" stop-color="#e8f0f4"/><stop offset="0.825" stop-color="#f0f4f6"/><stop offset="0.850" stop-color="#f8f3f0"/><stop offset="0.875" stop-color="#f8d4c2"/><stop offset="0.900" stop-color="#f5af90"/><stop offset="0.925" stop-color="#ea8e70"/><stop offset="0.950" stop-color="#da6b57"/><stop offset="0.975" stop-color="#c7433f"/><stop offset="1.000" stop-color="#b2182b"/></linearGradient></defs>
<rect x="654.2" y="286.4" width="9.4" height="178.9" fill="url(#cb)" stroke="#333" stroke-width="1"/>
<line x1="663.7" y1="300.2" x2="667" y2="300.2" stroke="#333" stroke-width="1"/>
<text transform="matrix(1 0 0 1.02 670.6 303.5)" font-size="9.2" text-anchor="start" fill="#1e1e1e" stroke="#1e1e1e" stroke-width="0.18" >1.0</text>
<line x1="663.7" y1="327.3" x2="667" y2="327.3" stroke="#333" stroke-width="1"/>
<text transform="matrix(1 0 0 1.02 670.6 330.6)" font-size="9.2" text-anchor="start" fill="#1e1e1e" stroke="#1e1e1e" stroke-width="0.18" >0.8</text>
<line x1="663.7" y1="355.0" x2="667" y2="355.0" stroke="#333" stroke-width="1"/>
<text transform="matrix(1 0 0 1.02 670.6 358.3)" font-size="9.2" text-anchor="start" fill="#1e1e1e" stroke="#1e1e1e" stroke-width="0.18" >0.6</text>
<line x1="663.7" y1="382.6" x2="667" y2="382.6" stroke="#333" stroke-width="1"/>
<text transform="matrix(1 0 0 1.02 670.6 385.9)" font-size="9.2" text-anchor="start" fill="#1e1e1e" stroke="#1e1e1e" stroke-width="0.18" >0.4</text>
<line x1="663.7" y1="410.2" x2="667" y2="410.2" stroke="#333" stroke-width="1"/>
<text transform="matrix(1 0 0 1.02 670.6 413.5)" font-size="9.2" text-anchor="start" fill="#1e1e1e" stroke="#1e1e1e" stroke-width="0.18" >0.2</text>
<line x1="663.7" y1="437.5" x2="667" y2="437.5" stroke="#333" stroke-width="1"/>
<text transform="matrix(1 0 0 1.02 670.6 440.8)" font-size="9.2" text-anchor="start" fill="#1e1e1e" stroke="#1e1e1e" stroke-width="0.18" >0.0</text>
<line x1="663.7" y1="465.1" x2="667" y2="465.1" stroke="#333" stroke-width="1"/>
<text transform="matrix(1 0 0 1.02 670.6 468.4)" font-size="9.2" text-anchor="start" fill="#1e1e1e" stroke="#1e1e1e" stroke-width="0.18" >-0.1</text>
<text x="648.3" y="281.2" font-size="8.6" fill="#222" stroke="#222" stroke-width="0.25">&#215;</text>
<text x="654.3" y="281.8" font-size="9.6" fill="#333">10</text>
<rect x="664.1" y="276.6" width="1.7" height="0.75" fill="#444"/>
<text x="665.9" y="278.8" font-size="6.3" fill="#333">3</text>
<path d="M424.8 517.1 H443.2 L435.6 524.1 V528 H432.4 V524.1 Z" fill="#dcdcdc"/><rect x="424.8" y="516.7" width="18.4" height="1.6" fill="#e8e8e8"/>
<circle cx="434.0" cy="506.9" r="2.05" fill="#27b06f"/>
<circle cx="430.0" cy="511.79999999999995" r="2.05" fill="#27b06f"/>
<circle cx="438.0" cy="511.79999999999995" r="2.05" fill="#27b06f"/>
<path d="M446.8 517.1 H465.2 L457.6 524.1 V528 H454.4 V524.1 Z" fill="#dcdcdc"/><rect x="446.8" y="516.7" width="18.4" height="1.6" fill="#e8e8e8"/>
<circle cx="456.0" cy="506.9" r="2.05" fill="#27b06f"/>
<circle cx="452.0" cy="511.79999999999995" r="2.05" fill="#27b06f"/>
<circle cx="460.0" cy="511.79999999999995" r="2.05" fill="#27b06f"/>
<path d="M467.7 517.1 H486.09999999999997 L478.5 524.1 V528 H475.29999999999995 V524.1 Z" fill="#dcdcdc"/><rect x="467.7" y="516.7" width="18.4" height="1.6" fill="#e8e8e8"/>
<circle cx="476.9" cy="506.9" r="2.05" fill="#27b06f"/>
<circle cx="472.9" cy="511.79999999999995" r="2.05" fill="#27b06f"/>
<circle cx="480.9" cy="511.79999999999995" r="2.05" fill="#27b06f"/>
<path d="M610.8 516.8 H629.2 L621.6 523.8 V528 H618.4 V523.8 Z" fill="#dcdcdc"/><rect x="610.8" y="516.4" width="18.4" height="1.6" fill="#e8e8e8"/>
<path d="M632.5 516.8 H650.9000000000001 L643.3000000000001 523.8 V528 H640.1 V523.8 Z" fill="#dcdcdc"/><rect x="632.5" y="516.4" width="18.4" height="1.6" fill="#e8e8e8"/>
<path d="M653.5 516.8 H671.9000000000001 L664.3000000000001 523.8 V528 H661.1 V523.8 Z" fill="#dcdcdc"/><rect x="653.5" y="516.4" width="18.4" height="1.6" fill="#e8e8e8"/>
<circle cx="612.6" cy="498.6" r="1.9" fill="#27b06f"/>
<circle cx="619.6" cy="498.6" r="1.9" fill="#27b06f"/>
<circle cx="626.6" cy="498.6" r="1.9" fill="#27b06f"/>
<circle cx="612.6" cy="505.4" r="1.9" fill="#27b06f"/>
<circle cx="619.6" cy="505.4" r="1.9" fill="#27b06f"/>
<circle cx="626.6" cy="505.4" r="1.9" fill="#27b06f"/>
<circle cx="612.6" cy="512.2" r="1.9" fill="#27b06f"/>
<circle cx="619.6" cy="512.2" r="1.9" fill="#27b06f"/>
<circle cx="626.6" cy="512.2" r="1.9" fill="#27b06f"/></svg></body></html>
